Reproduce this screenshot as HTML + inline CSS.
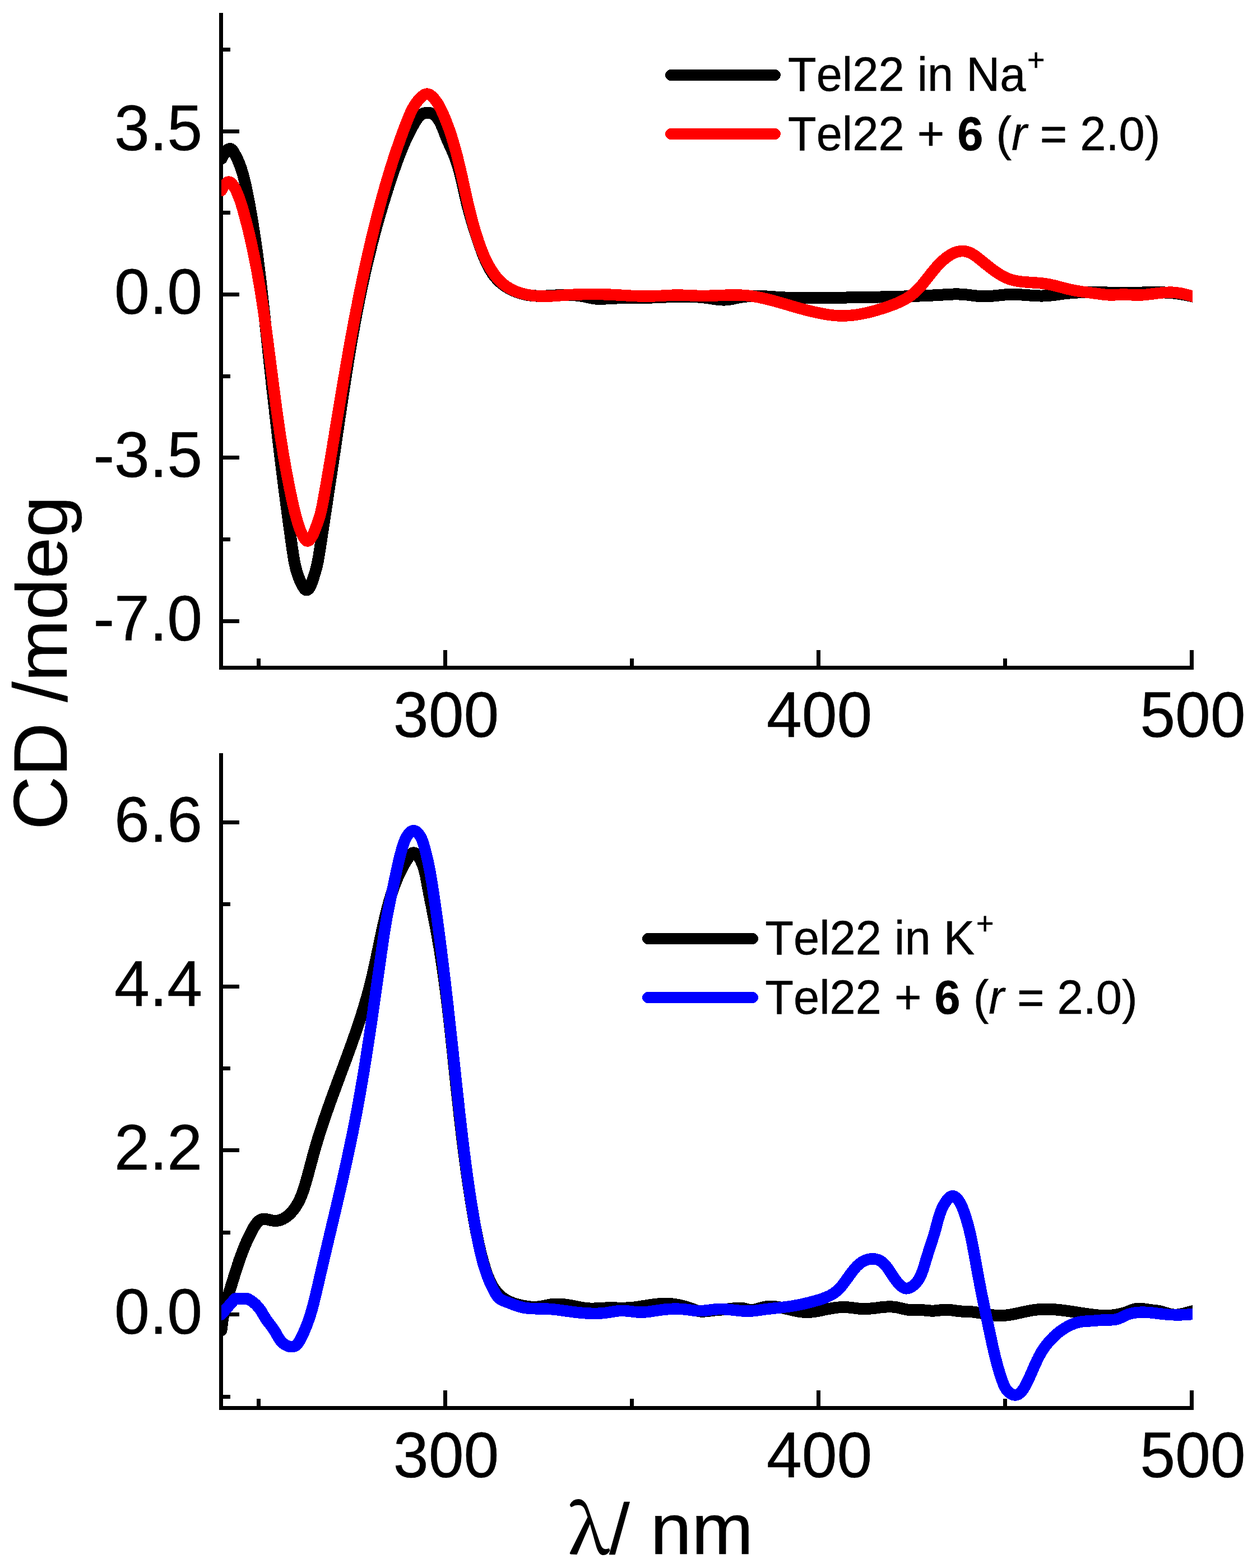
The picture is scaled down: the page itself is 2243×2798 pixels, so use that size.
<!DOCTYPE html>
<html lang="en"><head><meta charset="utf-8"><title>CD spectra of Tel22</title>
<style>html,body{margin:0;padding:0;background:#fff}body{width:2243px;height:2798px;overflow:hidden}svg{display:block}text{font-family:"Liberation Sans",Arial,Helvetica,sans-serif;fill:#000;font-kerning:none;stroke:#000;stroke-width:.5px;stroke-linejoin:round}.tk{font-size:113px}.lg{font-size:83px}.ti{font-size:132.3px}.axr{fill:#000;shape-rendering:crispEdges}.cv{fill:none;stroke-width:20.5;stroke-linejoin:round;stroke-linecap:round;shape-rendering:crispEdges}.bk{stroke-width:21px}.ll{stroke-width:20px}.aa{shape-rendering:geometricPrecision;stroke-width:18.5px}</style></head><body>
<svg width="2243" height="2798" viewBox="0 0 2243 2798" role="img" aria-label="CD spectra of Tel22 in Na+ and K+ buffer, alone and with compound 6 (r = 2.0)">
<rect width="2243" height="2798" fill="#fff"/>
<defs><clipPath id="c1"><rect x="395" y="0" width="1733" height="1300"/></clipPath><clipPath id="c2"><rect x="395" y="1300" width="1733" height="1400"/></clipPath></defs>
<path class="axr" d="M391,23h7v1172h-7zM391,1188h1739v7h-1739zM791,1160h7v30h-7zM1457,1160h7v30h-7zM2123,1160h7v30h-7zM458,1175h7v14h-7zM1124,1175h7v14h-7zM1790,1175h7v14h-7zM397,231h30v7h-30zM397,522h30v7h-30zM397,813h30v7h-30zM397,1105h30v7h-30zM397,85h14v7h-14zM397,376h14v7h-14zM397,668h14v7h-14zM397,959h14v7h-14z"/>
<text class="tk" transform="translate(361.2,268.4) scale(1,1.024)" text-anchor="end">3.5</text>
<text class="tk" transform="translate(361.2,559.8) scale(1,1.024)" text-anchor="end">0.0</text>
<text class="tk" transform="translate(361.2,851.1) scale(1,1.024)" text-anchor="end">-3.5</text>
<text class="tk" transform="translate(361.2,1142.5) scale(1,1.024)" text-anchor="end">-7.0</text>
<text class="tk" transform="translate(796.1,1315) scale(1,1.024)" text-anchor="middle">300</text>
<text class="tk" transform="translate(1462.2,1315) scale(1,1.024)" text-anchor="middle">400</text>
<text class="tk" transform="translate(2128.4,1315) scale(1,1.024)" text-anchor="middle">500</text>
<path class="axr" d="M391,1344h7v1172h-7zM391,2509h1739v7h-1739zM791,2481h7v30h-7zM1457,2481h7v30h-7zM2123,2481h7v30h-7zM458,2496h7v14h-7zM1124,2496h7v14h-7zM1790,2496h7v14h-7zM397,1464h30v7h-30zM397,1757h30v7h-30zM397,2049h30v7h-30zM397,2342h30v7h-30zM397,1610h14v7h-14zM397,1903h14v7h-14zM397,2196h14v7h-14zM397,2489h14v7h-14z"/>
<text class="tk" transform="translate(361.2,1501.8) scale(1,1.024)" text-anchor="end">6.6</text>
<text class="tk" transform="translate(361.2,1794.8) scale(1,1.024)" text-anchor="end">4.4</text>
<text class="tk" transform="translate(361.2,2086.8) scale(1,1.024)" text-anchor="end">2.2</text>
<text class="tk" transform="translate(361.2,2380.3) scale(1,1.024)" text-anchor="end">0.0</text>
<text class="tk" transform="translate(796.1,2636) scale(1,1.024)" text-anchor="middle">300</text>
<text class="tk" transform="translate(1462.2,2636) scale(1,1.024)" text-anchor="middle">400</text>
<text class="tk" transform="translate(2128.4,2636) scale(1,1.024)" text-anchor="middle">500</text>
<g class="cv" clip-path="url(#c1)">
<defs><path id="na0" d="M395.5,283.0 396.4,280.9 397.6,278.5 399.0,276.0 400.7,273.4 402.5,271.0 404.4,268.8 406.4,267.1 408.3,266.0 410.2,265.5 412.0,265.8 413.6,267.0 415.1,268.7 416.5,270.8 417.9,273.1 419.2,275.4 420.4,277.7 421.6,280.0 422.8,282.3 423.9,284.7 424.9,287.0 425.9,289.4 426.9,291.7 427.8,294.1 428.7,296.5 429.6,298.9 430.4,301.3 431.2,303.7 431.9,306.1 432.7,308.5 433.4,310.9 434.1,313.3 434.7,315.7 435.3,318.1 436.0,320.6 436.5,323.0 437.1,325.5 437.7,327.9 438.2,330.3 438.7,332.8 439.3,335.2 439.8,337.7 440.3,340.1 440.8,342.6 441.3,345.0 441.8,347.5 442.2,350.0 442.7,352.4 443.2,354.9 443.7,357.3 444.1,359.8 444.6,362.2 445.1,364.7 445.5,367.2 446.0,369.6 446.4,372.1 446.8,374.6 447.3,377.0 447.7,379.5 448.1,381.9 448.6,384.4 449.0,386.9 449.4,389.3 449.8,391.8 450.2,394.3 450.6,396.8 451.0,399.2 451.4,401.7 451.8,404.2 452.2,406.6 452.6,409.1 453.0,411.6 453.4,414.1 453.8,416.5 454.1,419.0 454.5,421.5 454.9,424.0 455.2,426.4 455.6,428.9 456.0,431.4 456.3,433.9 456.7,436.4 457.0,438.8 457.4,441.3 457.7,443.8 458.1,446.3 458.4,448.8 458.7,451.2 459.1,453.7 459.4,456.2 459.7,458.7 460.1,461.2 460.4,463.7 460.7,466.1 461.0,468.6 461.4,471.1 461.7,473.6 462.0,476.1 462.3,478.6 462.6,481.1 462.9,483.5 463.2,486.0 463.5,488.5 463.8,491.0 464.1,493.5 464.4,496.0 464.7,498.5 465.0,501.0 465.3,503.4 465.6,505.9 465.9,508.4 466.2,510.9 466.4,513.4 466.7,515.9 467.0,518.4 467.3,520.9 467.6,523.4 467.9,525.9 468.1,528.3 468.4,530.8 468.7,533.3 469.0,535.8 469.2,538.3 469.5,540.8 469.8,543.3 470.0,545.8 470.3,548.3 470.6,550.8 470.9,553.3 471.1,555.7 471.4,558.2 471.7,560.7 471.9,563.2 472.2,565.7 472.4,568.2 472.7,570.7 473.0,573.2 473.2,575.7 473.5,578.2 473.8,580.7 474.0,583.2 474.3,585.6 474.5,588.1 474.8,590.6 475.1,593.1 475.3,595.6 475.6,598.1 475.9,600.6 476.1,603.1 476.4,605.6 476.6,608.1 476.9,610.5 477.2,613.0 477.4,615.5 477.7,618.0 478.0,620.5 478.2,623.0 478.5,625.5 478.7,628.0 479.0,630.5 479.3,632.9 479.5,635.4 479.8,637.9 480.1,640.4 480.3,642.9 480.6,645.4 480.9,647.9 481.1,650.3 481.4,652.8 481.7,655.3 482.0,657.8 482.2,660.3 482.5,662.8 482.8,665.3 483.0,667.7 483.3,670.2 483.6,672.7 483.9,675.2 484.1,677.7 484.4,680.2 484.7,682.7 484.9,685.1 485.2,687.6 485.5,690.1 485.8,692.6 486.0,695.1 486.3,697.6 486.6,700.0 486.9,702.5 487.2,705.0 487.4,707.5 487.7,710.0 488.0,712.5 488.3,714.9 488.6,717.4 488.8,719.9 489.1,722.4 489.4,724.9 489.7,727.4 490.0,729.8 490.2,732.3 490.5,734.8 490.8,737.3 491.1,739.8 491.4,742.3 491.7,744.7 492.0,747.2 492.2,749.7 492.5,752.2 492.8,754.7 493.1,757.1 493.4,759.6 493.7,762.1 494.0,764.6 494.3,767.1 494.6,769.6 494.9,772.0 495.1,774.5 495.4,777.0 495.7,779.5 496.0,782.0 496.3,784.5 496.6,786.9 496.9,789.4 497.2,791.9 497.5,794.4 497.8,796.9 498.1,799.4 498.4,801.8 498.7,804.3 499.0,806.8 499.3,809.3 499.6,811.8 499.9,814.3 500.2,816.7 500.5,819.2 500.8,821.7 501.1,824.2 501.4,826.7 501.7,829.2 502.1,831.6 502.4,834.1 502.7,836.6 503.0,839.1 503.3,841.6 503.6,844.1 503.9,846.6 504.2,849.0 504.5,851.5 504.9,854.0 505.2,856.5 505.5,859.0 505.8,861.5 506.1,864.0 506.4,866.4 506.7,868.9 507.1,871.4 507.4,873.9 507.7,876.4 508.0,878.9 508.3,881.4 508.7,883.8 509.0,886.3 509.3,888.8 509.6,891.3 510.0,893.8 510.3,896.3 510.6,898.8 510.9,901.3 511.3,903.8 511.6,906.2 511.9,908.7 512.3,911.2 512.6,913.7 512.9,916.2 513.3,918.7 513.6,921.2 513.9,923.7 514.3,926.2 514.6,928.7 514.9,931.1 515.3,933.6 515.6,936.1 515.9,938.6 516.3,941.1 516.6,943.6 517.0,946.1 517.3,948.6 517.7,951.1 518.0,953.6 518.3,956.1 518.7,958.6 519.0,961.1 519.4,963.6 519.7,966.1 520.1,968.6 520.4,971.0 520.8,973.5 521.1,976.0 521.5,978.5 521.9,981.0 522.2,983.5 522.6,986.0 523.0,988.5 523.3,991.0 523.7,993.5 524.2,996.0 524.6,998.4 525.1,1000.9 525.5,1003.4 526.0,1005.8 526.6,1008.3 527.1,1010.7 527.7,1013.2 528.3,1015.6 529.0,1018.0 529.7,1020.4 530.4,1022.8 531.2,1025.2 532.0,1027.5 532.8,1029.9 533.7,1032.2 534.7,1034.5 535.7,1036.8 536.8,1039.1 537.9,1041.4 539.1,1043.7 540.3,1045.9 541.6,1048.1 543.0,1050.2 544.4,1051.8 545.9,1052.8 547.5,1052.9 549.1,1052.2 550.7,1050.8 552.3,1048.8 553.7,1046.3 555.0,1043.4 556.2,1040.3 557.3,1037.1 558.3,1034.0 559.3,1031.0 560.2,1028.2 561.1,1025.5 561.8,1022.9 562.6,1020.5 563.2,1018.1 563.9,1015.9 564.5,1013.7 565.0,1011.5 565.5,1009.3 566.0,1007.1 566.5,1004.9 567.0,1002.7 567.4,1000.4 567.9,998.1 568.3,995.7 568.7,993.3 569.1,990.9 569.5,988.4 569.9,986.0 570.3,983.5 570.7,981.0 571.1,978.5 571.5,976.0 571.8,973.5 572.2,971.0 572.6,968.5 573.0,966.0 573.3,963.5 573.7,961.0 574.1,958.5 574.5,956.0 574.9,953.5 575.2,951.0 575.6,948.5 576.0,946.0 576.4,943.6 576.8,941.1 577.1,938.6 577.5,936.1 577.9,933.6 578.3,931.1 578.6,928.6 579.0,926.1 579.4,923.7 579.8,921.2 580.1,918.7 580.5,916.2 580.9,913.7 581.3,911.3 581.7,908.8 582.0,906.3 582.4,903.8 582.8,901.3 583.2,898.9 583.5,896.4 583.9,893.9 584.3,891.4 584.7,888.9 585.0,886.5 585.4,884.0 585.8,881.5 586.1,879.0 586.5,876.6 586.9,874.1 587.3,871.6 587.6,869.1 588.0,866.7 588.4,864.2 588.8,861.7 589.1,859.2 589.5,856.8 589.9,854.3 590.3,851.8 590.6,849.4 591.0,846.9 591.4,844.4 591.7,841.9 592.1,839.5 592.5,837.0 592.8,834.5 593.2,832.1 593.6,829.6 594.0,827.1 594.3,824.6 594.7,822.2 595.1,819.7 595.4,817.2 595.8,814.7 596.2,812.3 596.5,809.8 596.9,807.3 597.3,804.9 597.6,802.4 598.0,799.9 598.4,797.4 598.7,795.0 599.1,792.5 599.5,790.0 599.8,787.6 600.2,785.1 600.6,782.6 600.9,780.1 601.3,777.7 601.7,775.2 602.0,772.7 602.4,770.2 602.8,767.8 603.1,765.3 603.5,762.8 603.8,760.3 604.2,757.9 604.6,755.4 604.9,752.9 605.3,750.4 605.7,748.0 606.0,745.5 606.4,743.0 606.8,740.5 607.1,738.1 607.5,735.6 607.9,733.1 608.2,730.6 608.6,728.2 609.0,725.7 609.3,723.2 609.7,720.7 610.1,718.2 610.5,715.8 610.8,713.3 611.2,710.8 611.6,708.3 612.0,705.9 612.3,703.4 612.7,700.9 613.1,698.4 613.5,696.0 613.8,693.5 614.2,691.0 614.6,688.5 615.0,686.1 615.3,683.6 615.7,681.1 616.1,678.6 616.5,676.2 616.9,673.7 617.3,671.2 617.7,668.7 618.0,666.3 618.4,663.8 618.8,661.3 619.2,658.8 619.6,656.4 620.0,653.9 620.4,651.4 620.8,648.9 621.2,646.5 621.6,644.0 622.0,641.5 622.4,639.1 622.8,636.6 623.2,634.1 623.6,631.6 624.0,629.2 624.4,626.7 624.9,624.2 625.3,621.8 625.7,619.3 626.1,616.8 626.5,614.4 626.9,611.9 627.4,609.4 627.8,606.9 628.2,604.5 628.6,602.0 629.1,599.5 629.5,597.1 629.9,594.6 630.4,592.1 630.8,589.7 631.3,587.2 631.7,584.7 632.1,582.3 632.6,579.8 633.0,577.4 633.5,574.9 633.9,572.4 634.4,570.0 634.9,567.5 635.3,565.0 635.8,562.6 636.2,560.1 636.7,557.7 637.2,555.2 637.7,552.7 638.1,550.3 638.6,547.8 639.1,545.4 639.6,542.9 640.1,540.5 640.5,538.0 641.0,535.5 641.5,533.1 642.0,530.6 642.5,528.2 643.0,525.7 643.5,523.3 644.0,520.8 644.5,518.4 645.0,515.9 645.6,513.5 646.1,511.0 646.6,508.6 647.1,506.1 647.7,503.7 648.2,501.2 648.7,498.8 649.3,496.3 649.8,493.9 650.3,491.4 650.9,489.0 651.4,486.5 652.0,484.1 652.5,481.7 653.1,479.2 653.7,476.8 654.2,474.3 654.8,471.9 655.4,469.5 655.9,467.0 656.5,464.6 657.1,462.2 657.7,459.7 658.3,457.3 658.9,454.8 659.5,452.4 660.1,450.0 660.7,447.6 661.3,445.1 661.9,442.7 662.5,440.3 663.1,437.8 663.7,435.4 664.3,433.0 665.0,430.6 665.6,428.1 666.2,425.7 666.8,423.3 667.5,420.9 668.1,418.5 668.8,416.0 669.4,413.6 670.1,411.2 670.7,408.8 671.4,406.4 672.0,404.0 672.7,401.5 673.4,399.1 674.1,396.7 674.7,394.3 675.4,391.9 676.1,389.5 676.8,387.1 677.5,384.7 678.2,382.3 678.9,379.9 679.6,377.5 680.3,375.1 681.0,372.7 681.7,370.3 682.4,367.9 683.1,365.5 683.8,363.1 684.6,360.7 685.3,358.3 686.0,355.9 686.8,353.5 687.5,351.2 688.2,348.8 689.0,346.4 689.7,344.0 690.5,341.6 691.2,339.2 692.0,336.9 692.8,334.5 693.5,332.1 694.3,329.7 695.1,327.4 695.9,325.0 696.6,322.6 697.4,320.3 698.2,317.9 699.0,315.5 699.8,313.2 700.6,310.8 701.4,308.5 702.2,306.1 703.0,303.7 703.8,301.4 704.7,299.0 705.5,296.7 706.3,294.3 707.2,292.0 708.0,289.6 708.8,287.3 709.7,284.9 710.6,282.6 711.4,280.3 712.3,277.9 713.2,275.6 714.1,273.3 715.0,271.0 716.0,268.6 716.9,266.3 717.8,264.0 718.8,261.7 719.8,259.4 720.8,257.1 721.8,254.8 722.8,252.5 723.8,250.2 724.9,247.9 725.9,245.6 727.0,243.3 728.1,241.0 729.2,238.8 730.4,236.5 731.5,234.2 732.7,232.0 733.9,229.7 735.1,227.4 736.4,225.2 737.6,223.0 738.9,220.7 740.2,218.5 741.6,216.3 742.9,214.1 744.4,211.9 745.9,209.9 747.5,207.9 749.3,206.2 751.2,204.7 753.4,203.5 755.7,202.5 758.1,201.8 760.5,201.4 763.0,201.2 765.6,201.4 768.1,201.8 770.5,202.6 772.8,203.6 774.9,205.0 776.9,206.6 778.8,208.5 780.4,210.6 782.0,212.8 783.4,215.2 784.8,217.5 786.0,219.9 787.1,222.2 788.2,224.5 789.2,226.9 790.2,229.2 791.1,231.5 792.0,233.8 792.9,236.1 793.7,238.3 794.6,240.6 795.5,242.9 796.4,245.1 797.3,247.4 798.2,249.7 799.2,251.9 800.2,254.2 801.2,256.4 802.3,258.7 803.3,260.9 804.4,263.2 805.4,265.5 806.4,267.8 807.4,270.1 808.4,272.4 809.4,274.7 810.3,277.0 811.3,279.3 812.1,281.7 813.0,284.0 813.8,286.4 814.6,288.8 815.4,291.2 816.2,293.6 816.9,296.0 817.7,298.4 818.4,300.8 819.0,303.2 819.7,305.7 820.4,308.1 821.0,310.5 821.6,313.0 822.2,315.4 822.8,317.9 823.4,320.3 824.0,322.8 824.6,325.3 825.1,327.7 825.7,330.2 826.2,332.6 826.8,335.1 827.3,337.6 827.9,340.0 828.4,342.5 829.0,344.9 829.5,347.4 830.1,349.8 830.6,352.3 831.2,354.7 831.8,357.1 832.4,359.5 832.9,362.0 833.5,364.4 834.1,366.8 834.7,369.2 835.4,371.6 836.0,373.9 836.6,376.3 837.3,378.7 837.9,381.1 838.6,383.5 839.3,385.8 839.9,388.2 840.6,390.6 841.3,392.9 842.0,395.3 842.7,397.6 843.5,400.0 844.2,402.4 844.9,404.7 845.7,407.1 846.4,409.4 847.2,411.8 847.9,414.2 848.7,416.5 849.5,418.9 850.3,421.3 851.1,423.7 851.9,426.1 852.7,428.4 853.5,430.8 854.3,433.2 855.2,435.6 856.0,438.1 856.8,440.5 857.7,442.9 858.6,445.3 859.4,447.7 860.3,450.1 861.2,452.6 862.2,455.0 863.1,457.4 864.1,459.7 865.1,462.1 866.1,464.5 867.1,466.8 868.2,469.1 869.3,471.4 870.4,473.7 871.6,476.0 872.8,478.2 874.0,480.4 875.3,482.5 876.6,484.6 878.0,486.7 879.3,488.8 880.8,490.8 882.3,492.8 883.8,494.7 885.4,496.5 887.0,498.4 888.7,500.1 890.5,501.9 892.3,503.5 894.1,505.1 896.0,506.7 898.0,508.2 900.0,509.6 902.0,511.0 904.1,512.4 906.2,513.6 908.4,514.9 910.6,516.0 912.8,517.2 915.1,518.2 917.4,519.2 919.7,520.2 922.0,521.1 924.4,522.0 926.8,522.7 929.2,523.5 931.6,524.2 934.1,524.8 936.6,525.4 939.0,525.9 941.5,526.4 944.0,526.8 946.5,527.1 949.0,527.5 951.5,527.7 954.0,527.9 956.5,528.0 959.0,528.2 961.5,528.2 964.0,528.2 966.5,528.2 969.0,528.2 971.5,528.1 974.0,528.0 976.5,527.9 979.0,527.8 981.5,527.7 984.0,527.5 986.5,527.4 989.0,527.2 991.5,527.0 994.0,526.9 996.5,526.7 999.0,526.6 1001.5,526.5 1004.0,526.4 1006.6,526.3 1009.1,526.3 1011.6,526.3 1014.1,526.3 1016.6,526.4 1019.1,526.4 1021.6,526.6 1024.1,526.7 1026.6,526.9 1029.1,527.1 1031.6,527.4 1034.1,527.7 1036.6,528.1 1039.0,528.5 1041.5,528.9 1043.9,529.4 1046.4,530.0 1048.8,530.5 1051.3,531.1 1053.7,531.6 1056.2,532.1 1058.6,532.5 1061.1,532.8 1063.6,533.1 1066.0,533.3 1068.5,533.4 1071.0,533.4 1073.5,533.3 1076.0,533.3 1078.5,533.1 1081.1,533.0 1083.6,532.8 1086.1,532.7 1088.6,532.5 1091.1,532.4 1093.6,532.3 1096.1,532.2 1098.7,532.1 1101.2,532.0 1103.7,531.9 1106.2,531.9 1108.7,531.8 1111.2,531.8 1113.7,531.8 1116.2,531.7 1118.7,531.7 1121.2,531.7 1123.7,531.7 1126.2,531.7 1128.7,531.7 1131.2,531.7 1133.7,531.7 1136.2,531.7 1138.7,531.6 1141.2,531.6 1143.7,531.6 1146.2,531.5 1148.7,531.5 1151.2,531.4 1153.7,531.4 1156.2,531.3 1158.7,531.2 1161.2,531.1 1163.7,531.0 1166.2,530.9 1168.7,530.8 1171.2,530.7 1173.7,530.6 1176.2,530.5 1178.7,530.4 1181.2,530.3 1183.7,530.2 1186.2,530.1 1188.7,530.0 1191.2,529.9 1193.7,529.8 1196.2,529.7 1198.7,529.6 1201.2,529.5 1203.7,529.4 1206.2,529.4 1208.7,529.3 1211.2,529.3 1213.7,529.2 1216.2,529.2 1218.7,529.2 1221.2,529.2 1223.7,529.2 1226.2,529.2 1228.7,529.3 1231.2,529.3 1233.7,529.4 1236.2,529.5 1238.7,529.6 1241.2,529.8 1243.7,529.9 1246.2,530.1 1248.7,530.3 1251.2,530.5 1253.7,530.7 1256.2,531.0 1258.7,531.3 1261.2,531.6 1263.7,531.9 1266.2,532.3 1268.7,532.7 1271.2,533.0 1273.7,533.4 1276.2,533.8 1278.7,534.1 1281.2,534.4 1283.7,534.6 1286.2,534.8 1288.7,535.0 1291.1,535.0 1293.6,535.0 1296.1,534.9 1298.6,534.7 1301.1,534.4 1303.6,534.0 1306.1,533.5 1308.6,533.0 1311.0,532.5 1313.5,532.0 1316.0,531.5 1318.5,531.0 1321.0,530.5 1323.5,530.1 1326.0,529.7 1328.4,529.4 1330.9,529.2 1333.4,528.9 1335.9,528.7 1338.4,528.6 1340.9,528.5 1343.4,528.4 1345.9,528.4 1348.4,528.4 1350.9,528.4 1353.4,528.4 1355.9,528.5 1358.3,528.5 1360.8,528.6 1363.3,528.8 1365.8,528.9 1368.3,529.0 1370.8,529.2 1373.3,529.3 1375.8,529.5 1378.3,529.7 1380.8,529.8 1383.3,530.0 1385.8,530.2 1388.3,530.3 1390.8,530.5 1393.3,530.6 1395.8,530.8 1398.3,530.9 1400.8,531.0 1403.3,531.1 1405.8,531.2 1408.3,531.2 1410.8,531.3 1413.3,531.4 1415.8,531.4 1418.3,531.4 1420.8,531.5 1423.3,531.5 1425.8,531.5 1428.3,531.5 1430.8,531.5 1433.3,531.5 1435.8,531.5 1438.4,531.5 1440.9,531.5 1443.4,531.5 1445.9,531.5 1448.4,531.5 1450.9,531.5 1453.4,531.5 1455.9,531.5 1458.4,531.4 1460.9,531.4 1463.4,531.4 1465.9,531.4 1468.4,531.4 1470.9,531.4 1473.4,531.3 1475.9,531.3 1478.4,531.3 1480.9,531.3 1483.4,531.3 1485.9,531.2 1488.4,531.2 1490.9,531.2 1493.4,531.2 1495.9,531.1 1498.4,531.1 1500.9,531.1 1503.4,531.1 1505.9,531.0 1508.4,531.0 1510.9,531.0 1513.4,530.9 1515.9,530.9 1518.4,530.9 1521.0,530.8 1523.5,530.8 1526.0,530.8 1528.5,530.7 1531.0,530.7 1533.5,530.7 1536.0,530.6 1538.5,530.6 1541.0,530.5 1543.5,530.5 1546.0,530.5 1548.5,530.4 1551.0,530.4 1553.5,530.3 1556.0,530.3 1558.5,530.2 1561.0,530.2 1563.5,530.1 1566.0,530.1 1568.5,530.0 1571.0,530.0 1573.5,529.9 1576.0,529.9 1578.5,529.8 1581.0,529.8 1583.5,529.7 1586.0,529.7 1588.5,529.6 1591.0,529.5 1593.5,529.5 1596.0,529.4 1598.5,529.4 1601.0,529.3 1603.5,529.2 1606.0,529.2 1608.6,529.1 1611.1,529.0 1613.6,529.0 1616.1,528.9 1618.6,528.8 1621.1,528.7 1623.6,528.7 1626.1,528.6 1628.6,528.5 1631.1,528.4 1633.6,528.3 1636.1,528.2 1638.6,528.1 1641.1,528.0 1643.6,527.9 1646.1,527.8 1648.6,527.7 1651.1,527.6 1653.6,527.5 1656.1,527.4 1658.6,527.3 1661.1,527.2 1663.6,527.1 1666.1,526.9 1668.6,526.8 1671.1,526.7 1673.6,526.5 1676.1,526.4 1678.6,526.2 1681.1,526.1 1683.6,525.9 1686.1,525.8 1688.6,525.6 1691.1,525.5 1693.6,525.3 1696.1,525.2 1698.6,525.1 1701.1,525.0 1703.6,524.9 1706.1,524.9 1708.6,524.9 1711.1,525.0 1713.6,525.1 1716.1,525.2 1718.6,525.4 1721.1,525.6 1723.6,525.8 1726.1,526.1 1728.6,526.4 1731.1,526.7 1733.6,527.0 1736.1,527.3 1738.6,527.6 1741.0,527.9 1743.5,528.2 1746.0,528.5 1748.5,528.7 1751.0,528.8 1753.5,528.9 1756.0,528.9 1758.5,528.9 1760.9,528.8 1763.4,528.7 1765.9,528.5 1768.4,528.3 1770.9,528.1 1773.4,527.9 1775.9,527.7 1778.4,527.4 1780.9,527.1 1783.4,526.9 1785.9,526.6 1788.4,526.4 1790.9,526.1 1793.4,525.9 1795.9,525.7 1798.4,525.6 1800.9,525.4 1803.4,525.4 1805.9,525.3 1808.4,525.3 1810.9,525.4 1813.4,525.4 1815.9,525.5 1818.4,525.6 1821.0,525.8 1823.5,526.0 1826.0,526.1 1828.5,526.3 1831.0,526.5 1833.5,526.7 1836.0,526.9 1838.5,527.1 1841.0,527.3 1843.5,527.5 1846.0,527.6 1848.5,527.8 1850.9,527.9 1853.4,527.9 1855.9,528.0 1858.4,528.0 1860.9,528.0 1863.4,527.9 1865.9,527.8 1868.4,527.7 1870.9,527.5 1873.4,527.3 1875.9,527.0 1878.4,526.7 1880.9,526.4 1883.4,526.1 1885.9,525.7 1888.4,525.4 1890.9,525.0 1893.4,524.7 1895.9,524.4 1898.4,524.0 1900.9,523.7 1903.4,523.5 1905.8,523.2 1908.3,523.0 1910.8,522.7 1913.3,522.6 1915.8,522.4 1918.3,522.2 1920.8,522.1 1923.3,522.0 1925.8,521.8 1928.3,521.8 1930.8,521.7 1933.3,521.6 1935.8,521.6 1938.3,521.5 1940.8,521.5 1943.3,521.5 1945.8,521.5 1948.3,521.5 1950.8,521.5 1953.3,521.5 1955.8,521.6 1958.3,521.6 1960.8,521.6 1963.3,521.7 1965.8,521.7 1968.3,521.8 1970.8,521.8 1973.3,521.9 1975.8,522.0 1978.3,522.0 1980.8,522.1 1983.3,522.1 1985.8,522.2 1988.3,522.2 1990.8,522.3 1993.3,522.3 1995.8,522.4 1998.3,522.4 2000.8,522.4 2003.3,522.5 2005.8,522.5 2008.3,522.5 2010.8,522.5 2013.4,522.5 2015.9,522.4 2018.4,522.4 2020.9,522.4 2023.4,522.3 2025.9,522.3 2028.4,522.2 2030.9,522.2 2033.4,522.1 2035.9,522.0 2038.4,522.0 2040.9,521.9 2043.4,521.9 2045.9,521.8 2048.4,521.8 2050.9,521.7 2053.4,521.7 2055.9,521.7 2058.4,521.6 2060.9,521.6 2063.4,521.6 2065.9,521.7 2068.4,521.7 2070.9,521.7 2073.4,521.8 2075.9,521.9 2078.4,522.0 2080.9,522.1 2083.4,522.2 2085.9,522.4 2088.4,522.6 2090.8,522.8 2093.3,523.0 2095.8,523.3 2098.3,523.6 2100.8,523.9 2103.3,524.2 2105.7,524.6 2108.2,525.0 2110.7,525.4 2113.1,525.8 2115.6,526.3 2118.1,526.8 2120.5,527.3 2123.0,527.8 2125.4,528.4 2127.9,528.9 2130.3,529.5 2132.7,530.1 2135.2,530.7 2137.6,531.4 2140.0,532.0"/></defs>
<use href="#na0" class="aa" stroke="#000"/>
<use href="#na0" class="cr bk" stroke="#000"/>
<defs><path id="na1" d="M395.0,340.0 396.0,337.9 397.3,335.5 398.8,333.0 400.4,330.6 402.2,328.3 404.1,326.5 406.0,325.1 408.0,324.6 409.9,324.8 411.7,325.9 413.4,327.5 415.1,329.4 416.6,331.5 418.0,333.7 419.3,336.0 420.5,338.4 421.7,340.8 422.8,343.3 423.8,345.7 424.8,348.2 425.8,350.6 426.7,353.1 427.6,355.5 428.5,357.9 429.3,360.3 430.1,362.7 430.8,365.1 431.6,367.5 432.3,369.9 433.0,372.3 433.7,374.8 434.4,377.2 435.0,379.6 435.7,382.0 436.4,384.4 437.0,386.8 437.6,389.2 438.3,391.6 438.9,394.0 439.5,396.4 440.2,398.8 440.8,401.2 441.4,403.6 442.0,406.1 442.6,408.5 443.2,410.9 443.8,413.3 444.3,415.7 444.9,418.2 445.5,420.6 446.1,423.0 446.6,425.5 447.2,427.9 447.7,430.3 448.3,432.7 448.8,435.2 449.3,437.6 449.9,440.0 450.4,442.5 450.9,444.9 451.4,447.4 451.9,449.8 452.4,452.2 453.0,454.7 453.4,457.1 453.9,459.6 454.4,462.0 454.9,464.5 455.4,466.9 455.9,469.3 456.3,471.8 456.8,474.2 457.3,476.7 457.7,479.1 458.2,481.6 458.7,484.1 459.1,486.5 459.6,489.0 460.0,491.4 460.4,493.9 460.9,496.3 461.3,498.8 461.7,501.3 462.1,503.7 462.6,506.2 463.0,508.6 463.4,511.1 463.8,513.6 464.2,516.0 464.6,518.5 465.0,521.0 465.4,523.4 465.8,525.9 466.2,528.4 466.6,530.8 467.0,533.3 467.4,535.8 467.8,538.3 468.1,540.7 468.5,543.2 468.9,545.7 469.3,548.1 469.6,550.6 470.0,553.1 470.4,555.6 470.7,558.0 471.1,560.5 471.5,563.0 471.8,565.5 472.2,568.0 472.5,570.4 472.9,572.9 473.2,575.4 473.6,577.9 473.9,580.4 474.3,582.8 474.6,585.3 474.9,587.8 475.3,590.3 475.6,592.8 475.9,595.3 476.3,597.7 476.6,600.2 476.9,602.7 477.3,605.2 477.6,607.7 477.9,610.2 478.3,612.6 478.6,615.1 478.9,617.6 479.2,620.1 479.6,622.6 479.9,625.1 480.2,627.6 480.5,630.0 480.8,632.5 481.2,635.0 481.5,637.5 481.8,640.0 482.1,642.5 482.4,645.0 482.8,647.5 483.1,649.9 483.4,652.4 483.7,654.9 484.0,657.4 484.3,659.9 484.7,662.4 485.0,664.9 485.3,667.4 485.6,669.9 485.9,672.3 486.3,674.8 486.6,677.3 486.9,679.8 487.2,682.3 487.5,684.8 487.8,687.3 488.2,689.8 488.5,692.2 488.8,694.7 489.1,697.2 489.5,699.7 489.8,702.2 490.1,704.7 490.4,707.2 490.8,709.7 491.1,712.1 491.4,714.6 491.7,717.1 492.1,719.6 492.4,722.1 492.7,724.6 493.1,727.1 493.4,729.5 493.8,732.0 494.1,734.5 494.4,737.0 494.8,739.5 495.1,742.0 495.5,744.4 495.8,746.9 496.2,749.4 496.5,751.9 496.9,754.4 497.2,756.8 497.6,759.3 498.0,761.8 498.3,764.3 498.7,766.8 499.0,769.2 499.4,771.7 499.8,774.2 500.2,776.7 500.5,779.1 500.9,781.6 501.3,784.1 501.7,786.6 502.1,789.0 502.5,791.5 502.9,794.0 503.3,796.4 503.7,798.9 504.1,801.4 504.5,803.9 504.9,806.3 505.3,808.8 505.7,811.3 506.1,813.7 506.5,816.2 506.9,818.6 507.4,821.1 507.8,823.6 508.2,826.0 508.7,828.5 509.1,831.0 509.5,833.4 510.0,835.9 510.4,838.3 510.9,840.8 511.3,843.2 511.8,845.7 512.3,848.1 512.7,850.6 513.2,853.0 513.7,855.5 514.1,857.9 514.6,860.4 515.1,862.8 515.6,865.3 516.1,867.7 516.5,870.2 517.0,872.6 517.5,875.0 518.0,877.5 518.5,879.9 519.0,882.4 519.6,884.8 520.1,887.2 520.6,889.7 521.1,892.1 521.6,894.5 522.2,896.9 522.7,899.4 523.3,901.8 523.8,904.2 524.4,906.6 525.0,909.1 525.5,911.5 526.1,913.9 526.8,916.4 527.4,918.8 528.0,921.2 528.7,923.6 529.4,926.1 530.1,928.5 530.8,930.9 531.6,933.4 532.3,935.8 533.1,938.2 533.9,940.7 534.8,943.1 535.7,945.6 536.6,948.0 537.6,950.4 538.7,952.9 539.9,955.3 541.2,957.7 542.6,960.1 544.1,962.3 545.7,964.1 547.4,965.2 549.1,965.4 550.9,964.7 552.6,963.2 554.2,961.2 555.7,958.9 557.1,956.4 558.4,954.0 559.6,951.5 560.7,948.9 561.7,946.4 562.7,943.9 563.6,941.4 564.5,939.0 565.4,936.6 566.3,934.2 567.1,931.9 567.9,929.5 568.7,927.2 569.4,924.9 570.1,922.6 570.8,920.3 571.5,917.9 572.1,915.6 572.7,913.2 573.3,910.8 573.8,908.4 574.3,905.9 574.8,903.5 575.3,901.0 575.8,898.6 576.3,896.1 576.7,893.6 577.2,891.2 577.6,888.7 578.1,886.2 578.5,883.7 579.0,881.3 579.4,878.8 579.8,876.3 580.3,873.8 580.7,871.4 581.1,868.9 581.6,866.4 582.0,863.9 582.4,861.5 582.9,859.0 583.3,856.5 583.7,854.1 584.2,851.6 584.6,849.1 585.0,846.6 585.4,844.2 585.9,841.7 586.3,839.2 586.7,836.8 587.1,834.3 587.5,831.8 587.9,829.3 588.4,826.9 588.8,824.4 589.2,821.9 589.6,819.5 590.0,817.0 590.4,814.5 590.9,812.1 591.3,809.6 591.7,807.1 592.1,804.7 592.5,802.2 592.9,799.7 593.3,797.3 593.7,794.8 594.1,792.3 594.5,789.8 595.0,787.4 595.4,784.9 595.8,782.4 596.2,780.0 596.6,777.5 597.0,775.0 597.4,772.6 597.8,770.1 598.2,767.6 598.6,765.2 599.0,762.7 599.4,760.2 599.8,757.8 600.2,755.3 600.7,752.8 601.1,750.4 601.5,747.9 601.9,745.4 602.3,743.0 602.7,740.5 603.1,738.0 603.5,735.6 603.9,733.1 604.3,730.6 604.7,728.2 605.1,725.7 605.5,723.2 606.0,720.8 606.4,718.3 606.8,715.8 607.2,713.4 607.6,710.9 608.0,708.4 608.4,706.0 608.8,703.5 609.2,701.0 609.7,698.6 610.1,696.1 610.5,693.6 610.9,691.2 611.3,688.7 611.7,686.2 612.2,683.8 612.6,681.3 613.0,678.8 613.4,676.3 613.8,673.9 614.3,671.4 614.7,668.9 615.1,666.5 615.5,664.0 615.9,661.5 616.4,659.1 616.8,656.6 617.2,654.1 617.6,651.7 618.1,649.2 618.5,646.8 618.9,644.3 619.4,641.8 619.8,639.4 620.2,636.9 620.7,634.4 621.1,632.0 621.5,629.5 622.0,627.0 622.4,624.6 622.8,622.1 623.3,619.6 623.7,617.2 624.2,614.7 624.6,612.2 625.1,609.8 625.5,607.3 626.0,604.9 626.4,602.4 626.8,599.9 627.3,597.5 627.7,595.0 628.2,592.5 628.7,590.1 629.1,587.6 629.6,585.2 630.0,582.7 630.5,580.2 630.9,577.8 631.4,575.3 631.9,572.9 632.3,570.4 632.8,567.9 633.3,565.5 633.7,563.0 634.2,560.6 634.7,558.1 635.2,555.6 635.6,553.2 636.1,550.7 636.6,548.3 637.1,545.8 637.6,543.4 638.0,540.9 638.5,538.5 639.0,536.0 639.5,533.5 640.0,531.1 640.5,528.6 641.0,526.2 641.5,523.7 642.0,521.3 642.5,518.8 643.0,516.4 643.5,513.9 644.0,511.5 644.5,509.0 645.0,506.6 645.5,504.1 646.0,501.7 646.5,499.2 647.0,496.8 647.6,494.3 648.1,491.9 648.6,489.4 649.1,487.0 649.6,484.5 650.2,482.1 650.7,479.6 651.2,477.2 651.8,474.7 652.3,472.3 652.8,469.9 653.4,467.4 653.9,465.0 654.5,462.5 655.0,460.1 655.6,457.7 656.1,455.2 656.7,452.8 657.2,450.3 657.8,447.9 658.4,445.5 658.9,443.0 659.5,440.6 660.0,438.1 660.6,435.7 661.2,433.3 661.8,430.8 662.3,428.4 662.9,426.0 663.5,423.5 664.1,421.1 664.7,418.7 665.3,416.2 665.9,413.8 666.5,411.4 667.0,408.9 667.6,406.5 668.2,404.1 668.9,401.7 669.5,399.2 670.1,396.8 670.7,394.4 671.3,391.9 671.9,389.5 672.5,387.1 673.2,384.7 673.8,382.2 674.4,379.8 675.1,377.4 675.7,375.0 676.3,372.6 677.0,370.1 677.6,367.7 678.3,365.3 678.9,362.9 679.6,360.5 680.2,358.1 680.9,355.6 681.5,353.2 682.2,350.8 682.9,348.4 683.5,346.0 684.2,343.6 684.9,341.2 685.6,338.8 686.2,336.3 686.9,333.9 687.6,331.5 688.3,329.1 689.0,326.7 689.7,324.3 690.4,321.9 691.1,319.5 691.8,317.1 692.6,314.7 693.3,312.3 694.0,309.9 694.7,307.5 695.5,305.1 696.2,302.7 696.9,300.4 697.7,298.0 698.4,295.6 699.2,293.2 699.9,290.8 700.7,288.4 701.5,286.0 702.2,283.7 703.0,281.3 703.8,278.9 704.6,276.5 705.4,274.2 706.2,271.8 707.0,269.4 707.8,267.0 708.6,264.7 709.4,262.3 710.2,259.9 711.0,257.6 711.8,255.2 712.7,252.9 713.5,250.5 714.3,248.1 715.2,245.8 716.0,243.4 716.9,241.1 717.7,238.7 718.6,236.4 719.5,234.1 720.3,231.7 721.2,229.4 722.1,227.0 723.0,224.7 723.9,222.4 724.8,220.0 725.7,217.7 726.6,215.4 727.6,213.1 728.5,210.7 729.4,208.4 730.4,206.1 731.4,203.9 732.4,201.6 733.5,199.4 734.6,197.1 735.7,194.9 736.9,192.7 738.1,190.6 739.4,188.5 740.7,186.4 742.1,184.3 743.6,182.3 745.1,180.3 746.7,178.3 748.5,176.4 750.3,174.5 752.3,172.7 754.4,170.9 756.6,169.4 758.8,168.3 761.1,167.7 763.3,167.7 765.5,168.4 767.6,169.5 769.7,171.1 771.7,172.9 773.5,174.8 775.3,176.8 776.9,178.8 778.4,180.9 779.9,182.9 781.3,185.0 782.6,187.1 783.8,189.3 785.0,191.5 786.1,193.7 787.2,195.9 788.3,198.1 789.3,200.4 790.3,202.6 791.3,204.9 792.3,207.2 793.3,209.5 794.2,211.8 795.2,214.1 796.1,216.4 797.0,218.7 797.9,221.1 798.8,223.4 799.7,225.8 800.5,228.1 801.4,230.5 802.2,232.9 803.0,235.3 803.8,237.7 804.6,240.1 805.4,242.5 806.2,244.9 806.9,247.3 807.7,249.7 808.4,252.1 809.1,254.6 809.8,257.0 810.5,259.4 811.2,261.8 811.9,264.3 812.6,266.7 813.2,269.1 813.9,271.6 814.5,274.0 815.2,276.4 815.8,278.9 816.4,281.3 817.0,283.7 817.6,286.1 818.2,288.6 818.8,291.0 819.4,293.4 819.9,295.8 820.5,298.3 821.1,300.7 821.6,303.1 822.2,305.5 822.7,307.9 823.3,310.4 823.8,312.8 824.4,315.2 824.9,317.6 825.4,320.0 826.0,322.5 826.5,324.9 827.0,327.3 827.6,329.7 828.1,332.1 828.6,334.5 829.2,337.0 829.7,339.4 830.2,341.8 830.8,344.2 831.3,346.6 831.8,349.0 832.4,351.4 832.9,353.8 833.4,356.3 834.0,358.7 834.5,361.1 835.1,363.5 835.7,365.9 836.2,368.3 836.8,370.7 837.4,373.1 838.0,375.6 838.6,378.0 839.2,380.4 839.8,382.8 840.4,385.2 841.0,387.6 841.6,390.0 842.3,392.4 842.9,394.9 843.6,397.3 844.2,399.7 844.9,402.1 845.6,404.5 846.3,406.9 847.0,409.3 847.7,411.8 848.4,414.2 849.2,416.6 849.9,419.0 850.7,421.4 851.5,423.8 852.3,426.2 853.1,428.7 853.9,431.1 854.8,433.5 855.6,435.9 856.5,438.3 857.4,440.8 858.3,443.2 859.2,445.6 860.2,448.0 861.1,450.4 862.1,452.8 863.1,455.2 864.1,457.6 865.2,459.9 866.3,462.3 867.4,464.6 868.5,466.9 869.7,469.2 870.8,471.4 872.0,473.7 873.3,475.9 874.5,478.1 875.8,480.2 877.2,482.4 878.5,484.5 879.9,486.5 881.4,488.5 882.8,490.5 884.3,492.5 885.9,494.4 887.5,496.3 889.1,498.1 890.7,499.9 892.4,501.6 894.2,503.3 896.0,504.9 897.8,506.5 899.7,508.0 901.6,509.5 903.5,510.9 905.6,512.3 907.6,513.5 909.7,514.8 911.9,516.0 914.0,517.1 916.3,518.1 918.5,519.1 920.8,520.1 923.2,521.0 925.5,521.8 927.9,522.6 930.3,523.3 932.7,524.0 935.2,524.6 937.7,525.2 940.1,525.8 942.7,526.2 945.2,526.7 947.7,527.1 950.2,527.4 952.7,527.7 955.3,528.0 957.8,528.2 960.4,528.4 962.9,528.5 965.4,528.6 967.9,528.7 970.4,528.7 972.9,528.7 975.4,528.7 977.9,528.6 980.4,528.5 982.9,528.4 985.4,528.3 987.9,528.1 990.3,528.0 992.8,527.8 995.3,527.6 997.8,527.4 1000.2,527.2 1002.7,527.1 1005.2,526.9 1007.7,526.7 1010.2,526.5 1012.7,526.4 1015.1,526.2 1017.6,526.1 1020.1,526.0 1022.6,525.8 1025.1,525.7 1027.6,525.6 1030.1,525.5 1032.6,525.4 1035.1,525.3 1037.6,525.3 1040.1,525.2 1042.7,525.1 1045.2,525.1 1047.7,525.1 1050.2,525.0 1052.7,525.0 1055.2,525.0 1057.7,525.0 1060.2,525.0 1062.7,525.0 1065.3,525.0 1067.8,525.1 1070.3,525.1 1072.8,525.2 1075.3,525.2 1077.8,525.3 1080.3,525.4 1082.8,525.5 1085.3,525.6 1087.9,525.7 1090.4,525.8 1092.9,525.9 1095.4,526.0 1097.9,526.1 1100.4,526.3 1102.9,526.4 1105.4,526.6 1107.9,526.7 1110.3,526.9 1112.8,527.0 1115.3,527.2 1117.8,527.3 1120.3,527.5 1122.8,527.6 1125.3,527.7 1127.8,527.9 1130.3,528.0 1132.8,528.1 1135.3,528.2 1137.8,528.3 1140.3,528.4 1142.7,528.4 1145.2,528.5 1147.7,528.5 1150.2,528.6 1152.7,528.6 1155.2,528.6 1157.7,528.6 1160.2,528.5 1162.7,528.5 1165.2,528.4 1167.7,528.3 1170.2,528.2 1172.7,528.1 1175.2,528.0 1177.7,527.9 1180.2,527.8 1182.7,527.6 1185.2,527.5 1187.7,527.3 1190.2,527.2 1192.7,527.0 1195.2,526.9 1197.7,526.8 1200.2,526.7 1202.7,526.6 1205.2,526.6 1207.7,526.6 1210.2,526.6 1212.7,526.6 1215.2,526.6 1217.7,526.7 1220.2,526.8 1222.7,526.9 1225.2,527.0 1227.7,527.1 1230.2,527.2 1232.7,527.3 1235.2,527.4 1237.7,527.5 1240.2,527.6 1242.7,527.7 1245.2,527.8 1247.7,527.8 1250.2,527.9 1252.7,527.9 1255.2,527.9 1257.7,527.9 1260.2,527.9 1262.7,527.8 1265.2,527.8 1267.7,527.7 1270.2,527.6 1272.7,527.5 1275.2,527.5 1277.7,527.4 1280.2,527.3 1282.7,527.1 1285.2,527.0 1287.7,526.9 1290.2,526.9 1292.7,526.8 1295.3,526.7 1297.8,526.6 1300.3,526.5 1302.8,526.5 1305.3,526.4 1307.8,526.4 1310.3,526.4 1312.8,526.4 1315.3,526.5 1317.7,526.5 1320.2,526.6 1322.7,526.7 1325.2,526.8 1327.7,527.0 1330.2,527.2 1332.7,527.4 1335.1,527.6 1337.6,527.9 1340.1,528.2 1342.5,528.6 1345.0,528.9 1347.5,529.3 1349.9,529.8 1352.4,530.2 1354.8,530.7 1357.3,531.2 1359.7,531.7 1362.2,532.3 1364.6,532.8 1367.1,533.4 1369.5,534.0 1372.0,534.6 1374.4,535.2 1376.8,535.8 1379.3,536.5 1381.7,537.2 1384.1,537.8 1386.6,538.5 1389.0,539.2 1391.4,539.9 1393.8,540.6 1396.2,541.3 1398.7,542.0 1401.1,542.7 1403.5,543.4 1405.9,544.1 1408.3,544.8 1410.7,545.6 1413.1,546.3 1415.5,547.0 1417.9,547.7 1420.3,548.3 1422.7,549.0 1425.1,549.7 1427.5,550.4 1429.9,551.0 1432.3,551.6 1434.7,552.3 1437.1,552.9 1439.6,553.5 1442.0,554.1 1444.4,554.7 1446.8,555.3 1449.2,555.9 1451.6,556.4 1454.1,557.0 1456.5,557.5 1458.9,558.0 1461.4,558.5 1463.8,559.0 1466.3,559.5 1468.7,560.0 1471.2,560.4 1473.7,560.9 1476.2,561.3 1478.7,561.6 1481.1,562.0 1483.6,562.3 1486.1,562.6 1488.6,562.8 1491.1,563.1 1493.6,563.2 1496.1,563.4 1498.6,563.5 1501.1,563.5 1503.6,563.5 1506.1,563.5 1508.6,563.4 1511.0,563.3 1513.5,563.2 1516.0,563.0 1518.5,562.8 1521.0,562.5 1523.5,562.3 1525.9,561.9 1528.4,561.6 1530.9,561.2 1533.3,560.8 1535.8,560.4 1538.3,559.9 1540.7,559.4 1543.2,558.9 1545.6,558.4 1548.1,557.8 1550.5,557.2 1553.0,556.6 1555.4,556.0 1557.8,555.4 1560.3,554.7 1562.7,554.0 1565.1,553.3 1567.5,552.6 1570.0,551.8 1572.4,551.1 1574.8,550.3 1577.2,549.5 1579.6,548.7 1582.0,547.9 1584.4,547.1 1586.7,546.3 1589.1,545.4 1591.5,544.6 1593.8,543.7 1596.2,542.8 1598.5,541.8 1600.8,540.9 1603.1,539.9 1605.3,538.9 1607.6,537.8 1609.8,536.7 1612.0,535.6 1614.2,534.5 1616.3,533.3 1618.4,532.0 1620.5,530.7 1622.5,529.4 1624.5,528.0 1626.4,526.6 1628.4,525.1 1630.2,523.5 1632.1,521.9 1633.9,520.3 1635.6,518.6 1637.4,516.9 1639.1,515.1 1640.8,513.3 1642.4,511.4 1644.1,509.6 1645.7,507.7 1647.3,505.7 1648.9,503.8 1650.5,501.8 1652.1,499.8 1653.7,497.8 1655.3,495.8 1656.9,493.7 1658.5,491.7 1660.1,489.7 1661.7,487.6 1663.3,485.6 1665.0,483.6 1666.7,481.5 1668.4,479.5 1670.1,477.5 1671.8,475.5 1673.6,473.6 1675.4,471.7 1677.3,469.8 1679.2,467.9 1681.1,466.1 1683.0,464.3 1685.0,462.6 1687.0,460.9 1689.0,459.3 1691.1,457.8 1693.2,456.4 1695.3,455.1 1697.4,453.8 1699.6,452.7 1701.7,451.7 1703.9,450.7 1706.1,450.0 1708.4,449.3 1710.6,448.8 1712.9,448.4 1715.2,448.2 1717.4,448.1 1719.7,448.2 1722.1,448.4 1724.4,448.9 1726.7,449.5 1729.1,450.3 1731.4,451.3 1733.8,452.5 1736.1,453.8 1738.5,455.3 1740.8,456.9 1743.1,458.6 1745.3,460.3 1747.5,462.1 1749.7,463.8 1751.7,465.5 1753.8,467.1 1755.7,468.7 1757.6,470.3 1759.5,471.8 1761.3,473.3 1763.2,474.7 1765.0,476.2 1766.9,477.6 1768.7,479.0 1770.6,480.4 1772.6,481.9 1774.5,483.3 1776.6,484.7 1778.7,486.2 1780.8,487.6 1782.9,489.0 1785.2,490.3 1787.4,491.6 1789.7,492.9 1792.0,494.1 1794.3,495.2 1796.6,496.2 1799.0,497.2 1801.3,498.0 1803.7,498.8 1806.1,499.5 1808.5,500.1 1810.9,500.7 1813.4,501.2 1815.8,501.7 1818.3,502.0 1820.7,502.4 1823.2,502.7 1825.7,503.0 1828.2,503.2 1830.7,503.4 1833.2,503.6 1835.7,503.8 1838.2,504.0 1840.7,504.1 1843.2,504.3 1845.7,504.4 1848.2,504.6 1850.7,504.8 1853.2,504.9 1855.7,505.2 1858.1,505.4 1860.6,505.7 1863.1,506.0 1865.6,506.3 1868.0,506.7 1870.5,507.2 1872.9,507.6 1875.4,508.1 1877.8,508.7 1880.3,509.3 1882.7,509.8 1885.1,510.4 1887.5,511.1 1890.0,511.7 1892.4,512.3 1894.8,513.0 1897.2,513.6 1899.7,514.2 1902.1,514.9 1904.5,515.5 1907.0,516.1 1909.4,516.6 1911.8,517.2 1914.3,517.7 1916.7,518.2 1919.2,518.6 1921.7,519.1 1924.1,519.5 1926.6,519.9 1929.1,520.2 1931.5,520.6 1934.0,520.9 1936.5,521.3 1939.0,521.6 1941.5,521.9 1944.0,522.2 1946.4,522.5 1948.9,522.9 1951.4,523.2 1953.9,523.5 1956.4,523.8 1958.9,524.2 1961.4,524.5 1963.8,524.8 1966.3,525.2 1968.8,525.5 1971.3,525.8 1973.8,526.0 1976.3,526.2 1978.8,526.4 1981.3,526.4 1983.8,526.4 1986.3,526.4 1988.8,526.3 1991.3,526.2 1993.8,526.0 1996.3,525.9 1998.8,525.7 2001.3,525.6 2003.8,525.6 2006.3,525.6 2008.8,525.6 2011.3,525.7 2013.8,525.9 2016.3,526.0 2018.8,526.2 2021.3,526.4 2023.8,526.5 2026.3,526.6 2028.8,526.6 2031.3,526.6 2033.8,526.6 2036.2,526.5 2038.7,526.3 2041.2,526.1 2043.7,525.9 2046.2,525.7 2048.7,525.4 2051.2,525.1 2053.7,524.8 2056.2,524.5 2058.7,524.2 2061.2,523.9 2063.7,523.5 2066.2,523.2 2068.7,523.0 2071.2,522.7 2073.7,522.4 2076.2,522.2 2078.7,522.0 2081.2,521.9 2083.7,521.8 2086.1,521.7 2088.6,521.7 2091.1,521.7 2093.6,521.8 2096.1,522.0 2098.5,522.2 2101.0,522.5 2103.5,522.9 2106.0,523.3 2108.4,523.7 2110.9,524.3 2113.3,524.8 2115.8,525.4 2118.2,526.0 2120.7,526.7 2123.1,527.3 2125.6,528.0 2128.0,528.7 2130.4,529.4 2132.8,530.0 2135.2,530.7 2137.6,531.4 2140.0,532.0"/></defs>
<use href="#na1" class="aa" stroke="#f00"/>
<use href="#na1" class="cr" stroke="#f00"/>
</g>
<g class="cv" clip-path="url(#c2)">
<defs><path id="k0" d="M395.0,2374.0 395.2,2371.6 395.5,2369.1 395.7,2366.7 396.1,2364.3 396.4,2361.8 396.7,2359.4 397.1,2356.9 397.5,2354.4 397.9,2352.0 398.4,2349.5 398.9,2347.1 399.3,2344.6 399.9,2342.1 400.4,2339.7 400.9,2337.2 401.5,2334.7 402.1,2332.3 402.7,2329.8 403.3,2327.4 403.9,2324.9 404.5,2322.4 405.2,2320.0 405.8,2317.5 406.5,2315.1 407.2,2312.6 407.9,2310.2 408.6,2307.7 409.3,2305.3 410.0,2302.9 410.7,2300.4 411.5,2298.0 412.2,2295.6 412.9,2293.2 413.7,2290.8 414.4,2288.4 415.2,2286.0 415.9,2283.6 416.7,2281.2 417.4,2278.8 418.1,2276.5 418.9,2274.1 419.6,2271.8 420.4,2269.4 421.1,2267.1 421.9,2264.8 422.6,2262.5 423.4,2260.1 424.1,2257.8 424.9,2255.5 425.7,2253.2 426.4,2250.9 427.2,2248.6 428.0,2246.3 428.8,2244.0 429.7,2241.7 430.5,2239.4 431.4,2237.1 432.2,2234.8 433.1,2232.5 434.0,2230.2 434.9,2227.8 435.9,2225.5 436.8,2223.2 437.8,2220.9 438.8,2218.5 439.9,2216.2 440.9,2213.8 442.0,2211.5 443.1,2209.1 444.3,2206.7 445.4,2204.4 446.6,2202.0 447.9,2199.6 449.1,2197.1 450.4,2194.7 451.7,2192.3 453.1,2189.9 454.5,2187.6 456.0,2185.4 457.6,2183.3 459.2,2181.4 460.9,2179.6 462.7,2178.2 464.6,2177.0 466.6,2176.1 468.7,2175.5 471.0,2175.3 473.3,2175.4 475.7,2175.7 478.2,2176.2 480.8,2176.8 483.3,2177.4 485.9,2177.9 488.5,2178.3 491.0,2178.5 493.5,2178.4 495.9,2178.1 498.3,2177.6 500.7,2176.9 503.0,2176.0 505.3,2174.9 507.5,2173.7 509.6,2172.4 511.7,2170.9 513.7,2169.3 515.7,2167.6 517.6,2165.8 519.4,2163.9 521.1,2162.0 522.8,2160.0 524.4,2158.0 525.9,2155.9 527.4,2153.8 528.7,2151.7 530.0,2149.6 531.3,2147.4 532.5,2145.2 533.6,2143.0 534.7,2140.8 535.7,2138.6 536.7,2136.3 537.7,2134.0 538.6,2131.7 539.4,2129.4 540.3,2127.0 541.1,2124.7 541.9,2122.3 542.6,2120.0 543.4,2117.6 544.1,2115.2 544.8,2112.8 545.5,2110.4 546.2,2108.0 546.9,2105.6 547.6,2103.2 548.3,2100.8 549.0,2098.4 549.6,2096.0 550.3,2093.6 550.9,2091.1 551.6,2088.7 552.2,2086.3 552.9,2083.9 553.5,2081.4 554.2,2079.0 554.8,2076.6 555.5,2074.1 556.1,2071.7 556.8,2069.3 557.4,2066.8 558.1,2064.4 558.7,2062.0 559.4,2059.6 560.1,2057.1 560.8,2054.7 561.4,2052.3 562.1,2049.9 562.8,2047.5 563.5,2045.1 564.2,2042.7 564.9,2040.3 565.7,2037.9 566.4,2035.5 567.1,2033.1 567.8,2030.7 568.6,2028.3 569.3,2025.9 570.1,2023.5 570.8,2021.1 571.6,2018.8 572.4,2016.4 573.1,2014.0 573.9,2011.6 574.7,2009.2 575.5,2006.9 576.3,2004.5 577.0,2002.1 577.8,1999.8 578.6,1997.4 579.4,1995.0 580.3,1992.7 581.1,1990.3 581.9,1988.0 582.7,1985.6 583.5,1983.2 584.3,1980.9 585.2,1978.5 586.0,1976.2 586.8,1973.8 587.7,1971.5 588.5,1969.1 589.3,1966.8 590.2,1964.4 591.0,1962.1 591.9,1959.7 592.7,1957.4 593.6,1955.0 594.4,1952.7 595.3,1950.3 596.2,1948.0 597.0,1945.6 597.9,1943.3 598.7,1940.9 599.6,1938.6 600.5,1936.2 601.3,1933.9 602.2,1931.5 603.1,1929.2 604.0,1926.9 604.8,1924.5 605.7,1922.2 606.6,1919.8 607.4,1917.5 608.3,1915.1 609.2,1912.8 610.1,1910.4 610.9,1908.1 611.8,1905.7 612.7,1903.4 613.5,1901.0 614.4,1898.7 615.3,1896.3 616.1,1894.0 617.0,1891.6 617.9,1889.3 618.7,1886.9 619.6,1884.6 620.5,1882.2 621.3,1879.9 622.2,1877.5 623.0,1875.2 623.9,1872.8 624.7,1870.5 625.6,1868.1 626.4,1865.8 627.3,1863.4 628.1,1861.0 629.0,1858.7 629.8,1856.3 630.6,1854.0 631.5,1851.6 632.3,1849.2 633.1,1846.9 634.0,1844.5 634.8,1842.2 635.6,1839.8 636.4,1837.4 637.2,1835.1 638.0,1832.7 638.8,1830.3 639.6,1827.9 640.4,1825.6 641.2,1823.2 642.0,1820.8 642.7,1818.4 643.5,1816.1 644.3,1813.7 645.0,1811.3 645.8,1808.9 646.5,1806.5 647.3,1804.2 648.0,1801.8 648.8,1799.4 649.5,1797.0 650.2,1794.6 650.9,1792.2 651.6,1789.8 652.3,1787.4 653.0,1785.0 653.7,1782.6 654.4,1780.2 655.1,1777.8 655.8,1775.4 656.4,1773.0 657.1,1770.6 657.7,1768.2 658.4,1765.8 659.0,1763.3 659.6,1760.9 660.3,1758.5 660.9,1756.1 661.5,1753.7 662.1,1751.2 662.7,1748.8 663.2,1746.4 663.8,1744.0 664.4,1741.5 665.0,1739.1 665.5,1736.7 666.1,1734.2 666.6,1731.8 667.2,1729.3 667.7,1726.9 668.2,1724.5 668.8,1722.0 669.3,1719.6 669.8,1717.1 670.4,1714.7 670.9,1712.2 671.4,1709.8 671.9,1707.3 672.4,1704.9 672.9,1702.4 673.4,1700.0 674.0,1697.5 674.5,1695.1 675.0,1692.6 675.5,1690.2 676.0,1687.7 676.5,1685.3 677.0,1682.8 677.5,1680.4 678.0,1677.9 678.6,1675.5 679.1,1673.0 679.6,1670.6 680.1,1668.1 680.6,1665.7 681.2,1663.2 681.7,1660.8 682.2,1658.3 682.8,1655.9 683.3,1653.4 683.9,1651.0 684.4,1648.6 685.0,1646.1 685.6,1643.7 686.1,1641.2 686.7,1638.8 687.3,1636.3 687.9,1633.9 688.5,1631.5 689.1,1629.0 689.7,1626.6 690.3,1624.2 690.9,1621.7 691.6,1619.3 692.2,1616.9 692.9,1614.5 693.6,1612.0 694.2,1609.6 694.9,1607.2 695.6,1604.8 696.4,1602.4 697.1,1600.0 697.8,1597.6 698.6,1595.2 699.4,1592.8 700.2,1590.4 701.0,1588.1 701.8,1585.7 702.7,1583.3 703.5,1581.0 704.4,1578.6 705.3,1576.3 706.2,1573.9 707.2,1571.6 708.1,1569.2 709.1,1566.9 710.1,1564.6 711.2,1562.3 712.2,1560.0 713.3,1557.7 714.4,1555.4 715.6,1553.2 716.7,1550.9 717.9,1548.6 719.1,1546.4 720.3,1544.2 721.6,1541.9 722.9,1539.7 724.2,1537.5 725.6,1535.3 727.0,1533.1 728.4,1530.9 729.8,1528.8 731.3,1526.7 732.8,1524.8 734.4,1523.2 736.1,1522.2 737.8,1521.8 739.6,1522.0 741.4,1522.8 743.1,1524.2 744.9,1526.0 746.6,1528.2 748.2,1530.6 749.7,1533.3 751.1,1536.1 752.4,1539.0 753.6,1541.8 754.7,1544.6 755.6,1547.3 756.5,1549.9 757.2,1552.5 757.9,1555.0 758.5,1557.5 759.1,1559.9 759.6,1562.3 760.1,1564.7 760.5,1567.0 760.9,1569.4 761.3,1571.7 761.8,1574.1 762.2,1576.4 762.6,1578.8 763.1,1581.2 763.5,1583.5 764.0,1585.9 764.4,1588.3 764.9,1590.7 765.4,1593.1 765.8,1595.5 766.3,1597.9 766.8,1600.3 767.3,1602.7 767.7,1605.1 768.2,1607.6 768.7,1610.0 769.2,1612.4 769.7,1614.9 770.2,1617.3 770.7,1619.8 771.2,1622.2 771.6,1624.7 772.1,1627.1 772.6,1629.6 773.1,1632.0 773.6,1634.5 774.1,1636.9 774.6,1639.4 775.0,1641.9 775.5,1644.3 776.0,1646.8 776.5,1649.3 777.0,1651.7 777.4,1654.2 777.9,1656.7 778.3,1659.2 778.8,1661.6 779.3,1664.1 779.7,1666.6 780.2,1669.0 780.6,1671.5 781.0,1674.0 781.5,1676.5 781.9,1678.9 782.3,1681.4 782.7,1683.9 783.2,1686.4 783.6,1688.8 784.0,1691.3 784.4,1693.8 784.8,1696.3 785.2,1698.7 785.6,1701.2 786.0,1703.7 786.4,1706.2 786.8,1708.6 787.2,1711.1 787.5,1713.6 787.9,1716.1 788.3,1718.5 788.7,1721.0 789.0,1723.5 789.4,1726.0 789.8,1728.4 790.1,1730.9 790.5,1733.4 790.8,1735.9 791.2,1738.4 791.5,1740.8 791.9,1743.3 792.2,1745.8 792.6,1748.3 792.9,1750.8 793.2,1753.2 793.6,1755.7 793.9,1758.2 794.2,1760.7 794.6,1763.1 794.9,1765.6 795.2,1768.1 795.5,1770.6 795.9,1773.1 796.2,1775.6 796.5,1778.0 796.8,1780.5 797.1,1783.0 797.4,1785.5 797.7,1788.0 798.0,1790.4 798.3,1792.9 798.6,1795.4 798.9,1797.9 799.2,1800.4 799.5,1802.8 799.8,1805.3 800.1,1807.8 800.4,1810.3 800.7,1812.8 801.0,1815.3 801.2,1817.7 801.5,1820.2 801.8,1822.7 802.1,1825.2 802.4,1827.7 802.6,1830.2 802.9,1832.6 803.2,1835.1 803.5,1837.6 803.8,1840.1 804.0,1842.6 804.3,1845.1 804.6,1847.6 804.8,1850.0 805.1,1852.5 805.4,1855.0 805.6,1857.5 805.9,1860.0 806.2,1862.5 806.4,1864.9 806.7,1867.4 807.0,1869.9 807.2,1872.4 807.5,1874.9 807.8,1877.4 808.0,1879.9 808.3,1882.4 808.5,1884.8 808.8,1887.3 809.1,1889.8 809.3,1892.3 809.6,1894.8 809.8,1897.3 810.1,1899.8 810.4,1902.2 810.6,1904.7 810.9,1907.2 811.1,1909.7 811.4,1912.2 811.7,1914.7 811.9,1917.2 812.2,1919.7 812.4,1922.1 812.7,1924.6 813.0,1927.1 813.2,1929.6 813.5,1932.1 813.8,1934.6 814.0,1937.1 814.3,1939.6 814.5,1942.0 814.8,1944.5 815.1,1947.0 815.3,1949.5 815.6,1952.0 815.9,1954.5 816.1,1957.0 816.4,1959.5 816.7,1962.0 817.0,1964.4 817.2,1966.9 817.5,1969.4 817.8,1971.9 818.1,1974.4 818.3,1976.9 818.6,1979.4 818.9,1981.9 819.2,1984.4 819.4,1986.8 819.7,1989.3 820.0,1991.8 820.3,1994.3 820.6,1996.8 820.9,1999.3 821.1,2001.8 821.4,2004.3 821.7,2006.8 822.0,2009.2 822.3,2011.7 822.6,2014.2 822.9,2016.7 823.2,2019.2 823.5,2021.7 823.8,2024.2 824.1,2026.7 824.4,2029.1 824.7,2031.6 825.0,2034.1 825.3,2036.6 825.6,2039.1 825.9,2041.6 826.2,2044.1 826.5,2046.5 826.9,2049.0 827.2,2051.5 827.5,2054.0 827.8,2056.5 828.1,2059.0 828.5,2061.5 828.8,2063.9 829.1,2066.4 829.4,2068.9 829.8,2071.4 830.1,2073.9 830.4,2076.4 830.8,2078.8 831.1,2081.3 831.4,2083.8 831.8,2086.3 832.1,2088.8 832.5,2091.2 832.8,2093.7 833.2,2096.2 833.5,2098.7 833.9,2101.2 834.2,2103.6 834.6,2106.1 834.9,2108.6 835.3,2111.1 835.7,2113.5 836.0,2116.0 836.4,2118.5 836.8,2121.0 837.2,2123.5 837.5,2125.9 837.9,2128.4 838.3,2130.9 838.7,2133.4 839.1,2135.8 839.4,2138.3 839.8,2140.8 840.2,2143.2 840.6,2145.7 841.0,2148.2 841.4,2150.7 841.8,2153.1 842.2,2155.6 842.6,2158.1 843.1,2160.5 843.5,2163.0 843.9,2165.5 844.3,2167.9 844.7,2170.4 845.2,2172.9 845.6,2175.3 846.0,2177.8 846.4,2180.3 846.9,2182.7 847.3,2185.2 847.8,2187.6 848.2,2190.1 848.7,2192.6 849.1,2195.0 849.6,2197.5 850.1,2199.9 850.6,2202.4 851.1,2204.8 851.6,2207.3 852.1,2209.8 852.6,2212.2 853.1,2214.7 853.6,2217.1 854.2,2219.6 854.7,2222.0 855.3,2224.5 855.8,2226.9 856.4,2229.3 857.0,2231.8 857.6,2234.2 858.2,2236.7 858.8,2239.1 859.4,2241.6 860.1,2244.0 860.7,2246.4 861.4,2248.9 862.1,2251.3 862.7,2253.7 863.5,2256.2 864.2,2258.6 864.9,2261.0 865.7,2263.4 866.4,2265.8 867.2,2268.2 868.0,2270.6 868.9,2273.0 869.7,2275.4 870.6,2277.7 871.6,2280.0 872.5,2282.3 873.5,2284.6 874.6,2286.8 875.7,2289.0 876.8,2291.2 878.0,2293.3 879.2,2295.4 880.4,2297.5 881.8,2299.5 883.1,2301.4 884.6,2303.3 886.0,2305.2 887.6,2307.0 889.2,2308.8 890.9,2310.5 892.6,2312.1 894.4,2313.7 896.3,2315.2 898.3,2316.6 900.3,2318.0 902.4,2319.3 904.6,2320.5 906.8,2321.7 909.1,2322.8 911.5,2323.8 914.0,2324.7 916.4,2325.6 918.9,2326.4 921.5,2327.2 924.0,2327.9 926.6,2328.5 929.1,2329.1 931.6,2329.7 934.2,2330.2 936.7,2330.6 939.1,2331.0 941.6,2331.4 944.0,2331.7 946.5,2332.0 948.9,2332.1 951.3,2332.2 953.7,2332.3 956.2,2332.2 958.6,2332.1 961.0,2331.9 963.5,2331.6 965.9,2331.2 968.4,2330.7 970.9,2330.2 973.4,2329.7 975.8,2329.2 978.3,2328.7 980.8,2328.2 983.3,2327.8 985.8,2327.5 988.3,2327.2 990.8,2327.1 993.3,2327.0 995.8,2327.0 998.3,2327.1 1000.8,2327.2 1003.3,2327.4 1005.8,2327.7 1008.3,2328.0 1010.8,2328.3 1013.3,2328.7 1015.7,2329.1 1018.2,2329.6 1020.7,2330.0 1023.2,2330.5 1025.7,2331.0 1028.1,2331.5 1030.6,2332.0 1033.1,2332.5 1035.5,2332.9 1038.0,2333.4 1040.4,2333.8 1042.9,2334.1 1045.4,2334.4 1047.9,2334.7 1050.3,2334.9 1052.8,2335.0 1055.3,2335.0 1057.8,2335.1 1060.3,2335.0 1062.8,2334.9 1065.3,2334.8 1067.8,2334.7 1070.3,2334.5 1072.8,2334.4 1075.4,2334.3 1077.9,2334.1 1080.4,2334.0 1082.9,2333.9 1085.4,2333.8 1087.9,2333.8 1090.4,2333.8 1092.9,2333.9 1095.4,2333.9 1097.9,2333.9 1100.4,2334.0 1102.9,2334.1 1105.4,2334.1 1107.9,2334.1 1110.4,2334.2 1112.9,2334.2 1115.4,2334.1 1117.9,2334.0 1120.4,2333.9 1122.9,2333.8 1125.4,2333.6 1127.9,2333.3 1130.4,2333.1 1132.9,2332.8 1135.3,2332.4 1137.8,2332.1 1140.3,2331.8 1142.8,2331.4 1145.3,2331.0 1147.8,2330.6 1150.3,2330.2 1152.8,2329.8 1155.3,2329.4 1157.7,2329.0 1160.2,2328.7 1162.7,2328.3 1165.2,2328.0 1167.7,2327.7 1170.2,2327.4 1172.7,2327.1 1175.2,2326.9 1177.7,2326.7 1180.2,2326.5 1182.6,2326.4 1185.1,2326.3 1187.6,2326.3 1190.1,2326.3 1192.6,2326.4 1195.1,2326.6 1197.6,2326.7 1200.1,2327.0 1202.6,2327.3 1205.0,2327.6 1207.5,2328.0 1210.0,2328.5 1212.4,2328.9 1214.9,2329.5 1217.3,2330.1 1219.8,2330.7 1222.2,2331.3 1224.6,2332.1 1227.0,2332.8 1229.4,2333.6 1231.8,2334.4 1234.1,2335.3 1236.5,2336.2 1238.8,2337.2 1241.1,2338.0 1243.5,2338.8 1245.9,2339.4 1248.3,2339.8 1250.8,2340.1 1253.2,2340.2 1255.7,2340.1 1258.2,2340.0 1260.8,2339.7 1263.3,2339.5 1265.8,2339.2 1268.4,2338.8 1270.9,2338.5 1273.4,2338.2 1275.9,2338.0 1278.4,2337.7 1280.9,2337.5 1283.4,2337.3 1285.9,2337.1 1288.4,2336.9 1290.9,2336.7 1293.4,2336.5 1295.9,2336.2 1298.3,2336.0 1300.8,2335.8 1303.3,2335.5 1305.9,2335.2 1308.4,2334.9 1310.9,2334.7 1313.4,2334.4 1315.9,2334.3 1318.4,2334.2 1320.9,2334.2 1323.4,2334.4 1325.8,2334.7 1328.3,2335.1 1330.7,2335.8 1333.1,2336.4 1335.5,2337.0 1337.9,2337.4 1340.3,2337.6 1342.7,2337.5 1345.1,2337.2 1347.5,2336.7 1350.0,2336.1 1352.4,2335.4 1354.8,2334.7 1357.3,2334.0 1359.8,2333.3 1362.2,2332.7 1364.7,2332.2 1367.2,2331.8 1369.7,2331.5 1372.2,2331.4 1374.7,2331.3 1377.1,2331.3 1379.6,2331.4 1382.1,2331.6 1384.6,2331.9 1387.1,2332.2 1389.6,2332.6 1392.0,2333.0 1394.5,2333.5 1397.0,2334.0 1399.5,2334.5 1401.9,2335.1 1404.4,2335.6 1406.9,2336.2 1409.3,2336.8 1411.8,2337.4 1414.3,2338.0 1416.7,2338.5 1419.2,2339.0 1421.7,2339.5 1424.1,2340.0 1426.6,2340.4 1429.1,2340.7 1431.5,2341.0 1434.0,2341.3 1436.5,2341.4 1438.9,2341.5 1441.4,2341.5 1443.9,2341.4 1446.3,2341.3 1448.8,2341.0 1451.3,2340.7 1453.8,2340.4 1456.3,2340.0 1458.7,2339.5 1461.2,2339.1 1463.7,2338.6 1466.2,2338.1 1468.7,2337.5 1471.1,2337.0 1473.6,2336.5 1476.1,2336.0 1478.6,2335.6 1481.1,2335.1 1483.6,2334.7 1486.0,2334.3 1488.5,2333.9 1491.0,2333.5 1493.5,2333.2 1496.0,2333.0 1498.5,2332.8 1500.9,2332.6 1503.4,2332.6 1505.9,2332.5 1508.4,2332.6 1510.9,2332.7 1513.4,2332.9 1515.9,2333.1 1518.3,2333.4 1520.8,2333.7 1523.3,2334.0 1525.8,2334.4 1528.3,2334.7 1530.8,2335.0 1533.3,2335.2 1535.8,2335.4 1538.3,2335.5 1540.8,2335.6 1543.3,2335.6 1545.8,2335.5 1548.3,2335.4 1550.8,2335.2 1553.3,2335.0 1555.8,2334.8 1558.3,2334.5 1560.8,2334.3 1563.3,2334.0 1565.8,2333.7 1568.3,2333.3 1570.8,2333.0 1573.3,2332.8 1575.8,2332.5 1578.3,2332.3 1580.8,2332.1 1583.4,2331.9 1585.9,2331.9 1588.3,2331.8 1590.8,2331.9 1593.3,2332.1 1595.8,2332.3 1598.3,2332.6 1600.7,2333.0 1603.2,2333.5 1605.6,2334.1 1608.1,2334.7 1610.5,2335.2 1613.0,2335.8 1615.4,2336.3 1617.9,2336.8 1620.3,2337.2 1622.8,2337.5 1625.3,2337.7 1627.8,2337.8 1630.3,2337.8 1632.8,2337.7 1635.3,2337.7 1637.8,2337.6 1640.3,2337.6 1642.8,2337.6 1645.3,2337.7 1647.8,2337.9 1650.3,2338.1 1652.8,2338.4 1655.3,2338.6 1657.8,2338.8 1660.3,2339.0 1662.8,2339.1 1665.3,2339.1 1667.8,2339.0 1670.3,2338.8 1672.8,2338.6 1675.3,2338.2 1677.8,2337.9 1680.2,2337.6 1682.7,2337.4 1685.2,2337.2 1687.7,2337.2 1690.2,2337.2 1692.7,2337.4 1695.2,2337.6 1697.7,2337.8 1700.2,2338.2 1702.7,2338.5 1705.1,2338.9 1707.6,2339.2 1710.1,2339.5 1712.6,2339.8 1715.1,2340.0 1717.6,2340.2 1720.1,2340.3 1722.6,2340.4 1725.1,2340.5 1727.6,2340.6 1730.1,2340.7 1732.6,2340.8 1735.1,2341.0 1737.6,2341.3 1740.1,2341.5 1742.6,2341.9 1745.1,2342.3 1747.6,2342.7 1750.1,2343.1 1752.5,2343.5 1755.0,2344.0 1757.5,2344.5 1760.0,2344.9 1762.5,2345.4 1765.0,2345.8 1767.5,2346.2 1769.9,2346.6 1772.4,2346.9 1774.9,2347.2 1777.4,2347.4 1779.9,2347.6 1782.3,2347.7 1784.8,2347.7 1787.3,2347.6 1789.8,2347.5 1792.2,2347.3 1794.7,2347.1 1797.2,2346.8 1799.7,2346.5 1802.1,2346.1 1804.6,2345.7 1807.1,2345.3 1809.5,2344.8 1812.0,2344.3 1814.5,2343.8 1817.0,2343.2 1819.4,2342.7 1821.9,2342.2 1824.4,2341.6 1826.8,2341.1 1829.3,2340.5 1831.8,2340.0 1834.3,2339.5 1836.7,2339.0 1839.2,2338.6 1841.7,2338.1 1844.1,2337.8 1846.6,2337.4 1849.1,2337.1 1851.6,2336.9 1854.1,2336.7 1856.5,2336.5 1859.0,2336.4 1861.5,2336.3 1864.0,2336.2 1866.5,2336.2 1868.9,2336.2 1871.4,2336.3 1873.9,2336.3 1876.4,2336.5 1878.9,2336.6 1881.4,2336.8 1883.8,2336.9 1886.3,2337.2 1888.8,2337.4 1891.3,2337.6 1893.8,2337.9 1896.3,2338.2 1898.8,2338.5 1901.3,2338.8 1903.7,2339.2 1906.2,2339.5 1908.7,2339.9 1911.2,2340.3 1913.7,2340.6 1916.2,2341.0 1918.7,2341.4 1921.2,2341.8 1923.7,2342.2 1926.2,2342.6 1928.6,2343.0 1931.1,2343.4 1933.6,2343.8 1936.1,2344.1 1938.6,2344.5 1941.1,2344.9 1943.6,2345.2 1946.1,2345.5 1948.6,2345.8 1951.0,2346.1 1953.5,2346.4 1956.0,2346.7 1958.5,2346.9 1961.0,2347.1 1963.4,2347.2 1965.9,2347.3 1968.4,2347.4 1970.9,2347.5 1973.3,2347.5 1975.8,2347.5 1978.3,2347.4 1980.7,2347.3 1983.2,2347.1 1985.7,2346.9 1988.1,2346.6 1990.6,2346.3 1993.0,2345.9 1995.5,2345.4 1997.9,2344.9 2000.4,2344.3 2002.8,2343.7 2005.2,2343.0 2007.7,2342.2 2010.1,2341.4 2012.5,2340.4 2014.9,2339.5 2017.4,2338.6 2019.8,2337.7 2022.2,2336.9 2024.6,2336.2 2027.1,2335.7 2029.5,2335.3 2032.0,2335.1 2034.4,2335.1 2036.9,2335.3 2039.4,2335.5 2041.8,2335.9 2044.3,2336.3 2046.8,2336.7 2049.3,2337.1 2051.8,2337.5 2054.3,2337.8 2056.8,2338.0 2059.3,2338.2 2061.8,2338.5 2064.3,2338.8 2066.8,2339.2 2069.2,2339.7 2071.7,2340.3 2074.1,2341.0 2076.5,2341.7 2078.9,2342.4 2081.4,2343.2 2083.8,2343.9 2086.2,2344.5 2088.6,2345.1 2091.0,2345.6 2093.4,2345.9 2095.8,2346.1 2098.2,2346.2 2100.7,2346.0 2103.1,2345.8 2105.5,2345.4 2108.0,2344.9 2110.5,2344.4 2112.9,2343.8 2115.4,2343.1 2117.8,2342.4 2120.3,2341.8 2122.8,2341.1 2125.2,2340.4 2127.7,2339.8 2130.2,2339.2 2132.6,2338.8 2135.1,2338.4 2137.6,2338.1 2140.0,2338.0"/></defs>
<use href="#k0" class="aa" stroke="#000"/>
<use href="#k0" class="cr bk" stroke="#000"/>
<defs><path id="k1" d="M395.0,2345.5 396.9,2343.3 398.7,2341.2 400.6,2339.0 402.5,2336.9 404.4,2334.7 406.3,2332.6 408.2,2330.4 410.0,2328.3 411.9,2326.1 413.8,2324.0 415.7,2321.8 417.5,2319.7 419.4,2317.5 422.6,2317.5 425.8,2317.4 429.0,2317.4 432.2,2317.4 435.4,2317.4 438.6,2317.5 441.8,2317.5 444.0,2318.7 446.2,2320.0 448.3,2321.3 450.3,2322.7 452.3,2324.3 454.2,2325.8 456.1,2327.5 457.8,2329.3 459.5,2331.1 461.2,2333.0 462.7,2335.0 464.2,2337.0 465.6,2339.1 467.0,2341.2 468.3,2343.4 469.6,2345.6 470.9,2347.8 472.2,2349.9 473.6,2352.1 474.9,2354.2 476.3,2356.2 477.8,2358.2 479.3,2360.2 480.8,2362.1 482.3,2364.0 483.8,2366.0 485.2,2367.9 486.7,2369.9 488.1,2372.0 489.5,2374.0 490.8,2376.2 492.1,2378.4 493.3,2380.7 494.6,2382.9 495.9,2385.2 497.2,2387.4 498.6,2389.6 500.1,2391.7 501.8,2393.7 503.6,2395.5 505.5,2397.3 507.6,2398.8 509.9,2400.2 512.2,2401.3 514.5,2402.2 516.9,2402.9 519.3,2403.2 521.5,2403.2 523.8,2402.9 525.8,2402.2 527.7,2401.1 529.5,2399.6 531.1,2397.8 532.6,2395.8 534.0,2393.6 535.3,2391.2 536.6,2388.8 537.8,2386.4 539.0,2384.0 540.1,2381.6 541.3,2379.2 542.4,2376.8 543.4,2374.4 544.4,2372.0 545.4,2369.6 546.4,2367.2 547.4,2364.8 548.3,2362.4 549.2,2360.0 550.0,2357.6 550.9,2355.2 551.7,2352.8 552.5,2350.4 553.3,2348.0 554.0,2345.6 554.8,2343.1 555.5,2340.7 556.2,2338.3 556.9,2335.9 557.6,2333.5 558.2,2331.1 558.9,2328.7 559.5,2326.3 560.1,2323.8 560.7,2321.4 561.3,2319.0 561.9,2316.6 562.5,2314.2 563.1,2311.8 563.7,2309.4 564.2,2306.9 564.8,2304.5 565.3,2302.1 565.9,2299.7 566.4,2297.3 567.0,2294.9 567.6,2292.4 568.1,2290.0 568.7,2287.6 569.2,2285.2 569.8,2282.8 570.3,2280.3 570.9,2277.9 571.4,2275.5 572.0,2273.1 572.6,2270.6 573.1,2268.2 573.7,2265.8 574.3,2263.4 574.8,2261.0 575.4,2258.5 576.0,2256.1 576.5,2253.7 577.1,2251.3 577.7,2248.8 578.2,2246.4 578.8,2244.0 579.4,2241.6 579.9,2239.1 580.5,2236.7 581.1,2234.3 581.7,2231.8 582.2,2229.4 582.8,2227.0 583.4,2224.6 583.9,2222.1 584.5,2219.7 585.1,2217.3 585.7,2214.8 586.2,2212.4 586.8,2210.0 587.4,2207.5 588.0,2205.1 588.5,2202.7 589.1,2200.2 589.7,2197.8 590.3,2195.4 590.8,2192.9 591.4,2190.5 592.0,2188.1 592.5,2185.6 593.1,2183.2 593.7,2180.8 594.3,2178.3 594.8,2175.9 595.4,2173.5 596.0,2171.0 596.6,2168.6 597.1,2166.2 597.7,2163.7 598.3,2161.3 598.8,2158.8 599.4,2156.4 600.0,2154.0 600.6,2151.5 601.1,2149.1 601.7,2146.6 602.3,2144.2 602.8,2141.8 603.4,2139.3 604.0,2136.9 604.5,2134.4 605.1,2132.0 605.6,2129.6 606.2,2127.1 606.8,2124.7 607.3,2122.2 607.9,2119.8 608.4,2117.3 609.0,2114.9 609.6,2112.4 610.1,2110.0 610.7,2107.6 611.2,2105.1 611.8,2102.7 612.3,2100.2 612.9,2097.8 613.4,2095.3 614.0,2092.9 614.5,2090.4 615.1,2088.0 615.6,2085.5 616.1,2083.1 616.7,2080.6 617.2,2078.2 617.8,2075.7 618.3,2073.3 618.8,2070.8 619.4,2068.4 619.9,2065.9 620.4,2063.5 621.0,2061.0 621.5,2058.6 622.0,2056.1 622.5,2053.7 623.0,2051.2 623.6,2048.8 624.1,2046.3 624.6,2043.9 625.1,2041.4 625.6,2039.0 626.1,2036.5 626.6,2034.1 627.2,2031.6 627.7,2029.1 628.2,2026.7 628.7,2024.2 629.2,2021.8 629.7,2019.3 630.2,2016.9 630.6,2014.4 631.1,2012.0 631.6,2009.5 632.1,2007.0 632.6,2004.6 633.1,2002.1 633.6,1999.7 634.0,1997.2 634.5,1994.7 635.0,1992.3 635.4,1989.8 635.9,1987.4 636.4,1984.9 636.8,1982.4 637.3,1980.0 637.8,1977.5 638.2,1975.1 638.7,1972.6 639.1,1970.1 639.6,1967.7 640.0,1965.2 640.5,1962.8 640.9,1960.3 641.3,1957.8 641.8,1955.4 642.2,1952.9 642.7,1950.4 643.1,1948.0 643.5,1945.5 643.9,1943.0 644.4,1940.6 644.8,1938.1 645.2,1935.6 645.6,1933.2 646.1,1930.7 646.5,1928.2 646.9,1925.8 647.3,1923.3 647.7,1920.8 648.1,1918.4 648.6,1915.9 649.0,1913.4 649.4,1911.0 649.8,1908.5 650.2,1906.0 650.6,1903.6 651.0,1901.1 651.4,1898.6 651.8,1896.2 652.2,1893.7 652.6,1891.2 653.0,1888.8 653.4,1886.3 653.7,1883.8 654.1,1881.4 654.5,1878.9 654.9,1876.4 655.3,1873.9 655.7,1871.5 656.1,1869.0 656.4,1866.5 656.8,1864.1 657.2,1861.6 657.6,1859.1 658.0,1856.6 658.3,1854.2 658.7,1851.7 659.1,1849.2 659.5,1846.8 659.8,1844.3 660.2,1841.8 660.6,1839.3 660.9,1836.9 661.3,1834.4 661.7,1831.9 662.0,1829.4 662.4,1827.0 662.8,1824.5 663.1,1822.0 663.5,1819.5 663.9,1817.1 664.2,1814.6 664.6,1812.1 664.9,1809.7 665.3,1807.2 665.7,1804.7 666.0,1802.2 666.4,1799.8 666.7,1797.3 667.1,1794.8 667.4,1792.3 667.8,1789.9 668.1,1787.4 668.5,1784.9 668.9,1782.4 669.2,1779.9 669.6,1777.5 669.9,1775.0 670.3,1772.5 670.6,1770.0 671.0,1767.6 671.3,1765.1 671.7,1762.6 672.0,1760.1 672.4,1757.7 672.7,1755.2 673.1,1752.7 673.4,1750.2 673.8,1747.8 674.1,1745.3 674.5,1742.8 674.8,1740.3 675.2,1737.8 675.5,1735.4 675.9,1732.9 676.2,1730.4 676.6,1727.9 676.9,1725.5 677.3,1723.0 677.6,1720.5 678.0,1718.0 678.3,1715.6 678.7,1713.1 679.0,1710.6 679.4,1708.1 679.7,1705.6 680.1,1703.2 680.4,1700.7 680.8,1698.2 681.1,1695.7 681.5,1693.3 681.8,1690.8 682.2,1688.3 682.6,1685.8 682.9,1683.3 683.3,1680.9 683.6,1678.4 684.0,1675.9 684.4,1673.4 684.7,1671.0 685.1,1668.5 685.5,1666.0 685.9,1663.5 686.3,1661.1 686.7,1658.6 687.1,1656.1 687.5,1653.6 687.9,1651.2 688.3,1648.7 688.7,1646.2 689.1,1643.7 689.6,1641.3 690.0,1638.8 690.4,1636.3 690.9,1633.9 691.4,1631.4 691.8,1628.9 692.3,1626.4 692.8,1624.0 693.3,1621.5 693.8,1619.0 694.3,1616.6 694.8,1614.1 695.3,1611.7 695.8,1609.2 696.3,1606.7 696.8,1604.3 697.4,1601.8 697.9,1599.4 698.4,1596.9 698.9,1594.5 699.5,1592.0 700.0,1589.6 700.5,1587.1 701.1,1584.7 701.6,1582.3 702.1,1579.8 702.7,1577.4 703.2,1575.0 703.7,1572.5 704.2,1570.1 704.7,1567.7 705.2,1565.3 705.8,1562.9 706.3,1560.5 706.8,1558.0 707.3,1555.6 707.8,1553.2 708.3,1550.8 708.9,1548.4 709.4,1546.0 709.9,1543.6 710.5,1541.1 711.0,1538.7 711.6,1536.3 712.2,1533.9 712.8,1531.4 713.4,1529.0 714.0,1526.5 714.6,1524.1 715.3,1521.6 716.0,1519.2 716.7,1516.7 717.4,1514.2 718.1,1511.7 718.9,1509.2 719.7,1506.7 720.5,1504.2 721.5,1501.8 722.5,1499.3 723.6,1496.9 724.8,1494.5 726.2,1492.2 727.7,1489.9 729.4,1487.8 731.1,1485.8 733.0,1484.1 734.9,1482.9 736.9,1482.2 738.8,1482.1 740.8,1482.7 742.7,1483.8 744.6,1485.3 746.4,1487.2 748.1,1489.4 749.6,1491.7 750.9,1494.0 752.1,1496.5 753.2,1499.0 754.2,1501.5 755.1,1504.0 755.9,1506.6 756.6,1509.2 757.3,1511.7 758.0,1514.3 758.7,1516.8 759.3,1519.3 759.9,1521.7 760.5,1524.2 761.1,1526.6 761.7,1529.0 762.3,1531.4 762.8,1533.8 763.4,1536.2 763.9,1538.6 764.4,1541.0 764.9,1543.4 765.4,1545.8 765.9,1548.2 766.3,1550.6 766.8,1553.1 767.3,1555.5 767.7,1557.9 768.2,1560.4 768.6,1562.8 769.0,1565.3 769.4,1567.7 769.8,1570.2 770.2,1572.6 770.7,1575.1 771.0,1577.6 771.4,1580.0 771.8,1582.5 772.2,1585.0 772.6,1587.5 773.0,1589.9 773.3,1592.4 773.7,1594.9 774.1,1597.4 774.4,1599.9 774.8,1602.3 775.2,1604.8 775.5,1607.3 775.9,1609.8 776.2,1612.3 776.6,1614.7 776.9,1617.2 777.3,1619.7 777.6,1622.2 778.0,1624.7 778.3,1627.2 778.7,1629.6 779.0,1632.1 779.4,1634.6 779.7,1637.1 780.1,1639.6 780.4,1642.0 780.7,1644.5 781.1,1647.0 781.4,1649.5 781.8,1652.0 782.1,1654.5 782.4,1656.9 782.7,1659.4 783.1,1661.9 783.4,1664.4 783.7,1666.9 784.1,1669.4 784.4,1671.8 784.7,1674.3 785.0,1676.8 785.4,1679.3 785.7,1681.8 786.0,1684.3 786.3,1686.7 786.6,1689.2 786.9,1691.7 787.3,1694.2 787.6,1696.7 787.9,1699.2 788.2,1701.7 788.5,1704.1 788.8,1706.6 789.1,1709.1 789.4,1711.6 789.7,1714.1 790.0,1716.6 790.3,1719.0 790.6,1721.5 790.9,1724.0 791.2,1726.5 791.5,1729.0 791.8,1731.5 792.1,1734.0 792.4,1736.4 792.7,1738.9 793.0,1741.4 793.3,1743.9 793.6,1746.4 793.9,1748.9 794.2,1751.4 794.5,1753.8 794.8,1756.3 795.1,1758.8 795.4,1761.3 795.7,1763.8 796.0,1766.3 796.2,1768.8 796.5,1771.2 796.8,1773.7 797.1,1776.2 797.4,1778.7 797.7,1781.2 798.0,1783.7 798.2,1786.2 798.5,1788.7 798.8,1791.1 799.1,1793.6 799.4,1796.1 799.6,1798.6 799.9,1801.1 800.2,1803.6 800.5,1806.1 800.8,1808.5 801.0,1811.0 801.3,1813.5 801.6,1816.0 801.9,1818.5 802.1,1821.0 802.4,1823.5 802.7,1826.0 803.0,1828.4 803.2,1830.9 803.5,1833.4 803.8,1835.9 804.1,1838.4 804.3,1840.9 804.6,1843.4 804.9,1845.9 805.2,1848.3 805.4,1850.8 805.7,1853.3 806.0,1855.8 806.2,1858.3 806.5,1860.8 806.8,1863.3 807.1,1865.7 807.3,1868.2 807.6,1870.7 807.9,1873.2 808.1,1875.7 808.4,1878.2 808.7,1880.7 808.9,1883.2 809.2,1885.6 809.5,1888.1 809.8,1890.6 810.0,1893.1 810.3,1895.6 810.6,1898.1 810.8,1900.6 811.1,1903.1 811.4,1905.5 811.6,1908.0 811.9,1910.5 812.2,1913.0 812.4,1915.5 812.7,1918.0 813.0,1920.5 813.2,1923.0 813.5,1925.4 813.8,1927.9 814.1,1930.4 814.3,1932.9 814.6,1935.4 814.9,1937.9 815.1,1940.4 815.4,1942.9 815.7,1945.3 815.9,1947.8 816.2,1950.3 816.5,1952.8 816.8,1955.3 817.0,1957.8 817.3,1960.3 817.6,1962.8 817.9,1965.2 818.1,1967.7 818.4,1970.2 818.7,1972.7 818.9,1975.2 819.2,1977.7 819.5,1980.2 819.8,1982.6 820.1,1985.1 820.3,1987.6 820.6,1990.1 820.9,1992.6 821.2,1995.1 821.5,1997.6 821.7,2000.1 822.0,2002.5 822.3,2005.0 822.6,2007.5 822.9,2010.0 823.2,2012.5 823.4,2015.0 823.7,2017.5 824.0,2019.9 824.3,2022.4 824.6,2024.9 824.9,2027.4 825.2,2029.9 825.5,2032.4 825.8,2034.8 826.1,2037.3 826.4,2039.8 826.7,2042.3 827.0,2044.8 827.3,2047.3 827.6,2049.7 827.9,2052.2 828.2,2054.7 828.5,2057.2 828.8,2059.7 829.2,2062.2 829.5,2064.6 829.8,2067.1 830.1,2069.6 830.4,2072.1 830.7,2074.6 831.1,2077.1 831.4,2079.5 831.7,2082.0 832.1,2084.5 832.4,2087.0 832.7,2089.5 833.1,2091.9 833.4,2094.4 833.7,2096.9 834.1,2099.4 834.4,2101.9 834.8,2104.3 835.1,2106.8 835.5,2109.3 835.8,2111.8 836.2,2114.2 836.5,2116.7 836.9,2119.2 837.2,2121.7 837.6,2124.2 838.0,2126.6 838.3,2129.1 838.7,2131.6 839.1,2134.1 839.5,2136.5 839.9,2139.0 840.2,2141.5 840.6,2144.0 841.0,2146.4 841.4,2148.9 841.8,2151.4 842.2,2153.9 842.6,2156.3 843.0,2158.8 843.4,2161.3 843.8,2163.7 844.2,2166.2 844.6,2168.7 845.0,2171.2 845.5,2173.6 845.9,2176.1 846.3,2178.6 846.7,2181.0 847.2,2183.5 847.6,2186.0 848.0,2188.4 848.5,2190.9 848.9,2193.4 849.4,2195.8 849.8,2198.3 850.3,2200.8 850.7,2203.2 851.2,2205.7 851.7,2208.2 852.1,2210.6 852.6,2213.1 853.1,2215.6 853.6,2218.0 854.1,2220.5 854.6,2222.9 855.1,2225.4 855.7,2227.8 856.2,2230.3 856.8,2232.7 857.3,2235.1 857.9,2237.6 858.5,2240.0 859.1,2242.4 859.7,2244.9 860.3,2247.3 861.0,2249.7 861.7,2252.1 862.3,2254.5 863.0,2256.9 863.7,2259.3 864.5,2261.7 865.2,2264.1 866.0,2266.4 866.8,2268.8 867.6,2271.2 868.4,2273.5 869.3,2275.9 870.2,2278.2 871.1,2280.6 872.0,2282.9 872.9,2285.2 873.9,2287.5 874.9,2289.8 875.9,2292.1 877.0,2294.4 878.1,2296.7 879.2,2298.9 880.3,2301.2 881.5,2303.4 882.7,2305.7 883.9,2307.9 885.2,2310.0 886.6,2312.0 888.1,2314.0 889.8,2315.7 891.6,2317.3 893.6,2318.7 895.7,2319.9 898.0,2321.0 900.3,2321.9 902.7,2322.8 905.1,2323.7 907.5,2324.6 909.9,2325.6 912.3,2326.5 914.7,2327.4 917.1,2328.3 919.5,2329.2 921.9,2330.0 924.3,2330.8 926.7,2331.5 929.1,2332.2 931.5,2332.8 933.9,2333.4 936.4,2333.8 938.8,2334.2 941.3,2334.5 943.8,2334.7 946.3,2334.9 948.8,2335.1 951.3,2335.2 953.8,2335.2 956.3,2335.3 958.8,2335.3 961.3,2335.3 963.8,2335.3 966.3,2335.4 968.8,2335.4 971.3,2335.5 973.8,2335.5 976.4,2335.6 978.8,2335.8 981.3,2336.0 983.8,2336.2 986.3,2336.4 988.8,2336.6 991.3,2336.9 993.8,2337.2 996.2,2337.5 998.7,2337.8 1001.2,2338.1 1003.7,2338.5 1006.1,2338.8 1008.6,2339.2 1011.1,2339.5 1013.6,2339.8 1016.0,2340.2 1018.5,2340.5 1021.0,2340.8 1023.5,2341.2 1026.0,2341.5 1028.5,2341.8 1030.9,2342.0 1033.4,2342.3 1035.9,2342.5 1038.4,2342.8 1040.9,2343.0 1043.4,2343.2 1045.9,2343.4 1048.4,2343.5 1050.8,2343.6 1053.3,2343.7 1055.8,2343.8 1058.3,2343.8 1060.8,2343.8 1063.3,2343.8 1065.8,2343.8 1068.3,2343.7 1070.8,2343.5 1073.3,2343.4 1075.8,2343.2 1078.3,2342.9 1080.8,2342.7 1083.3,2342.3 1085.8,2342.0 1088.2,2341.5 1090.7,2341.1 1093.2,2340.7 1095.7,2340.3 1098.2,2339.9 1100.7,2339.6 1103.2,2339.3 1105.7,2339.1 1108.2,2339.0 1110.7,2339.0 1113.2,2339.0 1115.7,2339.2 1118.2,2339.4 1120.7,2339.6 1123.2,2339.9 1125.7,2340.2 1128.2,2340.5 1130.7,2340.8 1133.2,2341.1 1135.7,2341.3 1138.2,2341.5 1140.7,2341.6 1143.2,2341.7 1145.7,2341.7 1148.1,2341.6 1150.6,2341.4 1153.1,2341.2 1155.6,2340.9 1158.1,2340.6 1160.6,2340.3 1163.1,2339.9 1165.5,2339.5 1168.0,2339.2 1170.5,2338.8 1173.0,2338.4 1175.5,2338.0 1178.0,2337.7 1180.5,2337.3 1183.0,2337.0 1185.5,2336.7 1188.0,2336.5 1190.5,2336.3 1193.0,2336.1 1195.4,2335.9 1197.9,2335.8 1200.4,2335.7 1202.9,2335.6 1205.4,2335.6 1207.9,2335.6 1210.4,2335.7 1212.9,2335.8 1215.4,2335.9 1217.9,2336.1 1220.4,2336.3 1222.9,2336.6 1225.4,2336.9 1227.9,2337.2 1230.4,2337.5 1232.9,2337.9 1235.4,2338.2 1237.9,2338.5 1240.4,2338.8 1242.8,2339.0 1245.3,2339.1 1247.8,2339.2 1250.3,2339.1 1252.8,2339.0 1255.3,2338.9 1257.8,2338.6 1260.3,2338.4 1262.8,2338.1 1265.3,2337.8 1267.8,2337.4 1270.3,2337.1 1272.8,2336.8 1275.3,2336.6 1277.8,2336.4 1280.3,2336.2 1282.8,2336.1 1285.3,2336.1 1287.8,2336.1 1290.3,2336.2 1292.8,2336.3 1295.3,2336.5 1297.8,2336.6 1300.3,2336.9 1302.8,2337.1 1305.3,2337.4 1307.8,2337.7 1310.3,2337.9 1312.8,2338.2 1315.3,2338.5 1317.8,2338.7 1320.3,2339.0 1322.8,2339.2 1325.3,2339.4 1327.8,2339.5 1330.3,2339.6 1332.7,2339.7 1335.2,2339.7 1337.7,2339.7 1340.2,2339.5 1342.7,2339.4 1345.2,2339.1 1347.6,2338.9 1350.1,2338.5 1352.6,2338.2 1355.1,2337.8 1357.5,2337.5 1360.0,2337.1 1362.5,2336.8 1365.0,2336.4 1367.5,2336.1 1369.9,2335.8 1372.4,2335.5 1374.9,2335.3 1377.4,2335.0 1379.9,2334.7 1382.4,2334.4 1384.8,2334.2 1387.3,2333.9 1389.8,2333.7 1392.3,2333.4 1394.8,2333.1 1397.2,2332.8 1399.7,2332.5 1402.2,2332.2 1404.7,2331.9 1407.2,2331.5 1409.6,2331.2 1412.1,2330.8 1414.6,2330.4 1417.0,2330.0 1419.5,2329.5 1422.0,2329.1 1424.4,2328.6 1426.9,2328.1 1429.4,2327.6 1431.8,2327.1 1434.3,2326.5 1436.7,2326.0 1439.1,2325.4 1441.6,2324.8 1444.0,2324.2 1446.4,2323.6 1448.8,2323.0 1451.3,2322.3 1453.7,2321.6 1456.1,2321.0 1458.5,2320.3 1460.9,2319.6 1463.2,2318.8 1465.6,2318.1 1468.0,2317.3 1470.3,2316.4 1472.6,2315.5 1474.9,2314.6 1477.1,2313.6 1479.3,2312.6 1481.5,2311.5 1483.7,2310.3 1485.8,2309.1 1487.8,2307.7 1489.8,2306.3 1491.8,2304.8 1493.7,2303.2 1495.5,2301.5 1497.3,2299.7 1499.1,2297.9 1500.8,2295.9 1502.5,2294.0 1504.1,2291.9 1505.7,2289.8 1507.3,2287.7 1508.9,2285.5 1510.5,2283.4 1512.0,2281.2 1513.6,2279.0 1515.1,2276.8 1516.7,2274.6 1518.3,2272.5 1519.9,2270.3 1521.5,2268.2 1523.1,2266.2 1524.7,2264.2 1526.4,2262.3 1528.1,2260.4 1529.9,2258.6 1531.7,2257.0 1533.5,2255.4 1535.4,2253.9 1537.4,2252.5 1539.4,2251.2 1541.5,2250.1 1543.7,2249.1 1545.9,2248.2 1548.3,2247.5 1550.6,2247.0 1553.0,2246.6 1555.5,2246.4 1557.9,2246.4 1560.4,2246.5 1562.8,2246.9 1565.2,2247.5 1567.5,2248.3 1569.8,2249.3 1572.0,2250.6 1574.1,2252.1 1576.1,2253.8 1578.0,2255.6 1579.8,2257.7 1581.6,2259.8 1583.3,2262.0 1584.9,2264.2 1586.5,2266.5 1588.0,2268.8 1589.5,2271.1 1591.0,2273.3 1592.4,2275.5 1593.8,2277.7 1595.2,2279.8 1596.7,2281.9 1598.2,2284.0 1599.7,2286.0 1601.3,2287.9 1602.9,2289.8 1604.7,2291.7 1606.5,2293.5 1608.4,2295.3 1610.4,2296.8 1612.5,2298.0 1614.7,2298.9 1617.0,2299.3 1619.3,2299.2 1621.6,2298.6 1623.9,2297.7 1626.2,2296.5 1628.3,2295.1 1630.2,2293.6 1632.1,2292.0 1633.8,2290.3 1635.4,2288.5 1636.9,2286.6 1638.3,2284.6 1639.7,2282.5 1640.9,2280.3 1642.0,2278.1 1643.1,2275.8 1644.1,2273.5 1645.1,2271.1 1646.0,2268.6 1646.9,2266.2 1647.7,2263.7 1648.5,2261.2 1649.3,2258.7 1650.0,2256.2 1650.8,2253.6 1651.5,2251.1 1652.2,2248.7 1653.0,2246.2 1653.7,2243.8 1654.5,2241.3 1655.2,2238.9 1656.0,2236.5 1656.8,2234.2 1657.5,2231.8 1658.3,2229.5 1659.1,2227.1 1659.8,2224.8 1660.6,2222.5 1661.3,2220.1 1662.1,2217.8 1662.8,2215.5 1663.6,2213.2 1664.3,2210.9 1665.0,2208.5 1665.8,2206.2 1666.5,2203.9 1667.2,2201.5 1667.9,2199.2 1668.5,2196.8 1669.2,2194.4 1669.9,2192.0 1670.5,2189.6 1671.1,2187.2 1671.8,2184.8 1672.4,2182.3 1673.1,2179.9 1673.7,2177.4 1674.4,2175.0 1675.1,2172.5 1675.9,2170.1 1676.6,2167.6 1677.5,2165.2 1678.3,2162.8 1679.3,2160.3 1680.3,2157.9 1681.3,2155.6 1682.5,2153.2 1683.7,2150.9 1685.0,2148.6 1686.4,2146.3 1687.9,2144.0 1689.4,2141.8 1691.1,2139.7 1692.9,2137.8 1694.7,2136.2 1696.6,2135.0 1698.6,2134.3 1700.6,2134.3 1702.5,2134.9 1704.5,2136.0 1706.4,2137.6 1708.3,2139.4 1710.0,2141.5 1711.6,2143.8 1713.1,2146.1 1714.4,2148.6 1715.6,2151.0 1716.7,2153.5 1717.8,2156.0 1718.7,2158.6 1719.6,2161.1 1720.5,2163.6 1721.3,2166.0 1722.1,2168.4 1722.9,2170.8 1723.6,2173.2 1724.4,2175.5 1725.1,2177.9 1725.8,2180.2 1726.5,2182.5 1727.1,2184.8 1727.7,2187.2 1728.4,2189.5 1729.0,2191.8 1729.6,2194.2 1730.1,2196.6 1730.7,2199.0 1731.3,2201.5 1731.8,2203.9 1732.4,2206.4 1732.9,2208.9 1733.4,2211.3 1733.9,2213.8 1734.4,2216.3 1734.9,2218.8 1735.4,2221.3 1735.9,2223.8 1736.3,2226.2 1736.8,2228.7 1737.3,2231.2 1737.7,2233.7 1738.2,2236.1 1738.6,2238.6 1739.1,2241.0 1739.5,2243.5 1740.0,2246.0 1740.4,2248.4 1740.9,2250.9 1741.3,2253.3 1741.7,2255.8 1742.2,2258.2 1742.6,2260.7 1743.0,2263.1 1743.5,2265.6 1743.9,2268.0 1744.4,2270.5 1744.8,2272.9 1745.3,2275.4 1745.7,2277.8 1746.2,2280.3 1746.6,2282.7 1747.1,2285.2 1747.6,2287.6 1748.0,2290.1 1748.5,2292.5 1749.0,2295.0 1749.5,2297.5 1749.9,2299.9 1750.4,2302.4 1750.9,2304.8 1751.4,2307.3 1751.9,2309.8 1752.4,2312.2 1752.9,2314.7 1753.4,2317.2 1753.9,2319.6 1754.4,2322.1 1754.9,2324.5 1755.4,2327.0 1756.0,2329.5 1756.5,2331.9 1757.0,2334.4 1757.5,2336.9 1758.0,2339.3 1758.5,2341.8 1759.0,2344.2 1759.6,2346.7 1760.1,2349.1 1760.6,2351.6 1761.1,2354.0 1761.6,2356.5 1762.2,2358.9 1762.7,2361.4 1763.2,2363.8 1763.7,2366.3 1764.2,2368.7 1764.7,2371.2 1765.3,2373.6 1765.8,2376.0 1766.3,2378.5 1766.8,2380.9 1767.3,2383.3 1767.8,2385.8 1768.4,2388.2 1768.9,2390.6 1769.4,2393.0 1769.9,2395.4 1770.4,2397.9 1771.0,2400.3 1771.5,2402.7 1772.0,2405.1 1772.6,2407.5 1773.1,2409.9 1773.7,2412.4 1774.3,2414.8 1774.9,2417.2 1775.4,2419.6 1776.0,2422.0 1776.6,2424.5 1777.3,2426.9 1777.9,2429.3 1778.5,2431.7 1779.2,2434.2 1779.9,2436.6 1780.5,2439.0 1781.2,2441.4 1781.9,2443.9 1782.7,2446.3 1783.4,2448.8 1784.2,2451.2 1785.0,2453.6 1785.8,2456.1 1786.6,2458.5 1787.4,2461.0 1788.3,2463.5 1789.2,2465.9 1790.1,2468.4 1791.0,2470.8 1792.1,2473.2 1793.3,2475.5 1794.6,2477.7 1796.0,2479.9 1797.7,2481.9 1799.5,2483.8 1801.5,2485.5 1803.6,2486.9 1805.8,2488.1 1808.0,2488.9 1810.2,2489.4 1812.3,2489.4 1814.3,2489.1 1816.3,2488.3 1818.2,2487.2 1820.0,2485.8 1821.8,2484.1 1823.5,2482.2 1825.1,2480.1 1826.7,2477.8 1828.2,2475.3 1829.6,2472.8 1831.0,2470.2 1832.4,2467.5 1833.7,2464.9 1834.9,2462.2 1836.1,2459.7 1837.3,2457.1 1838.4,2454.6 1839.5,2452.2 1840.6,2449.8 1841.6,2447.4 1842.6,2445.1 1843.6,2442.8 1844.6,2440.5 1845.6,2438.2 1846.6,2436.0 1847.6,2433.8 1848.6,2431.7 1849.5,2429.5 1850.5,2427.4 1851.6,2425.3 1852.6,2423.3 1853.6,2421.2 1854.7,2419.2 1855.8,2417.1 1857.0,2415.1 1858.1,2413.1 1859.4,2411.1 1860.6,2409.1 1861.9,2407.1 1863.3,2405.1 1864.7,2403.1 1866.2,2401.1 1867.7,2399.2 1869.3,2397.2 1870.9,2395.3 1872.6,2393.4 1874.3,2391.5 1876.0,2389.6 1877.8,2387.8 1879.6,2385.9 1881.5,2384.2 1883.4,2382.4 1885.4,2380.7 1887.4,2379.0 1889.4,2377.4 1891.4,2375.8 1893.5,2374.3 1895.6,2372.8 1897.8,2371.4 1899.9,2370.0 1902.1,2368.7 1904.4,2367.4 1906.6,2366.2 1908.9,2365.1 1911.2,2364.0 1913.5,2363.1 1915.8,2362.2 1918.2,2361.3 1920.5,2360.6 1922.9,2359.9 1925.3,2359.3 1927.7,2358.8 1930.2,2358.4 1932.6,2358.1 1935.0,2357.9 1937.5,2357.7 1939.9,2357.5 1942.4,2357.4 1944.9,2357.3 1947.4,2357.2 1949.9,2357.0 1952.3,2356.8 1954.8,2356.6 1957.3,2356.4 1959.9,2356.2 1962.4,2355.9 1964.9,2355.7 1967.4,2355.6 1969.9,2355.4 1972.4,2355.3 1975.0,2355.3 1977.5,2355.3 1980.0,2355.3 1982.5,2355.3 1985.0,2355.2 1987.5,2355.0 1990.0,2354.6 1992.4,2354.1 1994.8,2353.5 1997.2,2352.6 1999.5,2351.6 2001.8,2350.5 2004.1,2349.3 2006.4,2348.2 2008.8,2347.1 2011.1,2346.2 2013.5,2345.3 2015.8,2344.6 2018.2,2343.9 2020.6,2343.4 2023.0,2342.9 2025.4,2342.5 2027.9,2342.2 2030.3,2341.9 2032.8,2341.8 2035.2,2341.7 2037.7,2341.6 2040.2,2341.6 2042.7,2341.7 2045.2,2341.8 2047.7,2341.9 2050.2,2342.1 2052.7,2342.3 2055.2,2342.6 2057.7,2342.8 2060.2,2343.1 2062.7,2343.4 2065.2,2343.7 2067.7,2344.0 2070.3,2344.3 2072.8,2344.6 2075.3,2344.8 2077.8,2345.1 2080.3,2345.4 2082.8,2345.6 2085.3,2345.8 2087.8,2345.9 2090.3,2346.1 2092.8,2346.2 2095.2,2346.3 2097.7,2346.3 2100.2,2346.4 2102.7,2346.4 2105.2,2346.4 2107.6,2346.3 2110.1,2346.2 2112.6,2346.1 2115.1,2346.0 2117.5,2345.8 2120.0,2345.6 2122.5,2345.4 2125.0,2345.2 2127.5,2344.9 2130.0,2344.6 2132.5,2344.2 2135.0,2343.8 2137.5,2343.4 2140.0,2343.0"/></defs>
<use href="#k1" class="aa" stroke="#00f"/>
<use href="#k1" class="cr" stroke="#00f"/>
</g>
<g class="cv"><path class="ll" stroke="#000" d="M1197,134 H1383"/><path class="ll" stroke="#f00" d="M1197,239 H1383"/></g>
<text class="lg" transform="translate(1406,162.4) scale(1,1.024)">Tel22 in Na<tspan dx="2.5" dy="-35.5" font-size="54px">+</tspan></text>
<text class="lg" transform="translate(1406,268.3) scale(1,1.024)">Tel22 + <tspan font-weight="bold">6</tspan> (<tspan font-style="italic">r</tspan> = 2.0)</text>
<g class="cv"><path class="ll" stroke="#000" d="M1156,1675 H1343"/><path class="ll" stroke="#00f" d="M1156,1780 H1343"/></g>
<text class="lg" transform="translate(1365.3,1703) scale(1,1.024)">Tel22 in K<tspan dx="3" dy="-35.5" font-size="54px">+</tspan></text>
<text class="lg" transform="translate(1365.3,1809) scale(1,1.024)">Tel22 + <tspan font-weight="bold">6</tspan> (<tspan font-style="italic">r</tspan> = 2.0)</text>
<text class="ti" transform="translate(118.6,1480.8) rotate(-90) scale(1,1.024)">CD /</text>
<text class="ti" transform="translate(118.6,1216.2) rotate(-90) scale(1,0.965)">mdeg</text>
<text transform="translate(1015,2772.2) scale(1.03,1)" font-size="119.5px" style="font-family:'Noto Serif CJK SC','Liberation Serif',serif;stroke-width:2.2px">λ</text>
<text class="ti" transform="translate(1086.9,2772.5) scale(1,0.974)">/ nm</text>
</svg></body></html>
